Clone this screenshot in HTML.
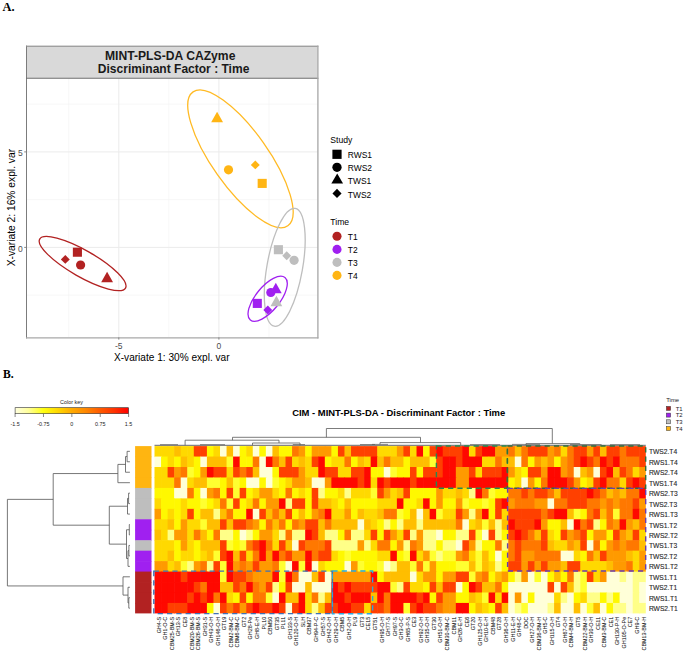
<!DOCTYPE html>
<html><head><meta charset="utf-8"><style>
html,body{margin:0;padding:0;background:#fff;}
body{width:685px;height:654px;overflow:hidden;font-family:'Liberation Sans',sans-serif;}
svg{display:block;}
</style></head><body>
<svg width="685" height="654" viewBox="0 0 685 654">
<rect width="685" height="654" fill="#fff"/>
<text x="2.6" y="10.8" style="font-family:'Liberation Serif',serif;font-weight:bold;font-size:12.4px" fill="#000">A.</text>
<text transform="translate(2.9 377.9) scale(0.88 1)" style="font-family:'Liberation Serif',serif;font-weight:bold;font-size:13.2px" fill="#000">B.</text>
<rect x="26.4" y="45.6" width="291.20000000000005" height="32.6" fill="#D9D9D9"/>
<rect x="26.4" y="78.2" width="291.20000000000005" height="259.2" fill="#fff"/>
<line x1="68.75" y1="78.2" x2="68.75" y2="337.4" stroke="#F2F2F2" stroke-width="0.6"/>
<line x1="168.85" y1="78.2" x2="168.85" y2="337.4" stroke="#F2F2F2" stroke-width="0.6"/>
<line x1="268.95" y1="78.2" x2="268.95" y2="337.4" stroke="#F2F2F2" stroke-width="0.6"/>
<line x1="26.4" y1="104.15" x2="317.6" y2="104.15" stroke="#F2F2F2" stroke-width="0.6"/>
<line x1="26.4" y1="199.65" x2="317.6" y2="199.65" stroke="#F2F2F2" stroke-width="0.6"/>
<line x1="26.4" y1="295.15" x2="317.6" y2="295.15" stroke="#F2F2F2" stroke-width="0.6"/>
<line x1="118.80" y1="78.2" x2="118.80" y2="337.4" stroke="#EBEBEB" stroke-width="1"/>
<line x1="218.90" y1="78.2" x2="218.90" y2="337.4" stroke="#EBEBEB" stroke-width="1"/>
<line x1="26.4" y1="151.90" x2="317.6" y2="151.90" stroke="#EBEBEB" stroke-width="1"/>
<line x1="26.4" y1="247.40" x2="317.6" y2="247.40" stroke="#EBEBEB" stroke-width="1"/>
<ellipse cx="82.6" cy="263.6" rx="49.4" ry="13.2" transform="rotate(29.7 82.6 263.6)" fill="none" stroke="#B22222" stroke-width="1.3"/>
<ellipse cx="240.45" cy="158.8" rx="82" ry="28" transform="rotate(54.7 240.45 158.8)" fill="none" stroke="#FFBA24" stroke-width="1.3"/>
<ellipse cx="284.75" cy="267.35" rx="59.8" ry="17.8" transform="rotate(-79.9 284.75 267.35)" fill="none" stroke="#BEBEBE" stroke-width="1.3"/>
<ellipse cx="267.65" cy="298.75" rx="27.4" ry="11.9" transform="rotate(-50.8 267.65 298.75)" fill="none" stroke="#A020F0" stroke-width="1.3"/>
<rect x="72.85" y="247.65" width="9.1" height="9.1" fill="#B22222"/>
<path d="M65.30,254.95 L69.75,259.40 L65.30,263.85 L60.85,259.40Z" fill="#B22222"/>
<circle cx="80.6" cy="265.0" r="4.6" fill="#B22222"/>
<path d="M107.10,271.76 L113.00,282.16 L101.20,282.16Z" fill="#B22222"/>
<path d="M217.10,111.76 L223.00,122.16 L211.20,122.16Z" fill="#FFB514"/>
<circle cx="228.5" cy="169.8" r="4.6" fill="#FFB514"/>
<path d="M255.30,160.45 L259.75,164.90 L255.30,169.35 L250.85,164.90Z" fill="#FFB514"/>
<rect x="257.65" y="178.85" width="9.1" height="9.1" fill="#FFB514"/>
<rect x="273.85" y="245.15" width="9.1" height="9.1" fill="#BEBEBE"/>
<path d="M286.70,251.25 L291.15,255.70 L286.70,260.15 L282.25,255.70Z" fill="#BEBEBE"/>
<circle cx="294.1" cy="260.3" r="4.6" fill="#BEBEBE"/>
<path d="M276.40,295.76 L282.30,306.16 L270.50,306.16Z" fill="#BEBEBE"/>
<path d="M275.80,282.76 L281.70,293.16 L269.90,293.16Z" fill="#A020F0"/>
<circle cx="270.8" cy="292.5" r="4.6" fill="#A020F0"/>
<rect x="252.75" y="298.85" width="9.1" height="9.1" fill="#A020F0"/>
<path d="M267.80,305.55 L272.25,310.00 L267.80,314.45 L263.35,310.00Z" fill="#A020F0"/>
<line x1="26.5" y1="45.6" x2="26.5" y2="338.4" stroke="#7C7C7C" stroke-width="1.0"/>
<line x1="26.0" y1="46.2" x2="318.4" y2="46.2" stroke="#8C8C8C" stroke-width="1.1"/>
<line x1="26.0" y1="78.3" x2="318.4" y2="78.3" stroke="#6E6E6E" stroke-width="1.1"/>
<line x1="317.9" y1="45.6" x2="317.9" y2="338.6" stroke="#A6A6A6" stroke-width="1.3"/>
<line x1="26.0" y1="337.9" x2="318.4" y2="337.9" stroke="#A8A8A8" stroke-width="1.4"/>
<line x1="24.2" y1="151.90" x2="26.4" y2="151.90" stroke="#7A7A7A" stroke-width="0.9"/>
<line x1="24.2" y1="247.40" x2="26.4" y2="247.40" stroke="#7A7A7A" stroke-width="0.9"/>
<line x1="118.80" y1="337.4" x2="118.80" y2="339.59999999999997" stroke="#7A7A7A" stroke-width="0.9"/>
<line x1="218.90" y1="337.4" x2="218.90" y2="339.59999999999997" stroke="#7A7A7A" stroke-width="0.9"/>
<text transform="translate(22.8 156.20) scale(0.86 1)" text-anchor="end" style="font-family:'Liberation Sans',sans-serif;font-size:9.9px" fill="#4D4D4D">5</text>
<text transform="translate(22.8 251.70) scale(0.86 1)" text-anchor="end" style="font-family:'Liberation Sans',sans-serif;font-size:9.9px" fill="#4D4D4D">0</text>
<text x="118.80" y="348.6" text-anchor="middle" style="font-family:'Liberation Sans',sans-serif;font-size:8.5px" fill="#4D4D4D">-5</text>
<text x="218.90" y="348.6" text-anchor="middle" style="font-family:'Liberation Sans',sans-serif;font-size:8.5px" fill="#4D4D4D">0</text>
<text x="171.8" y="360.6" text-anchor="middle" style="font-family:'Liberation Sans',sans-serif;font-size:10.1px" fill="#000">X-variate 1: 30% expl. var</text>
<text transform="translate(15.4 207.6) rotate(-90)" text-anchor="middle" style="font-family:'Liberation Sans',sans-serif;font-size:10.25px" fill="#000">X-variate 2: 16% expl. var</text>
<text x="170.2" y="60.2" text-anchor="middle" style="font-family:'Liberation Sans',sans-serif;font-weight:bold;font-size:12.15px" fill="#1A1A1A">MINT-PLS-DA CAZyme</text>
<text x="173.6" y="73.4" text-anchor="middle" style="font-family:'Liberation Sans',sans-serif;font-weight:bold;font-size:12.04px" fill="#1A1A1A">Discriminant Factor : Time</text>
<text transform="translate(330.3 142.6) scale(0.97 1)" style="font-family:'Liberation Sans',sans-serif;font-size:8.9px" fill="#000">Study</text>
<rect x="332.40" y="149.70" width="9.2" height="9.2" fill="#000"/>
<circle cx="337.0" cy="167.3" r="4.65" fill="#000"/>
<path d="M337.20,173.44 L343.05,183.54 L331.35,183.54Z" fill="#000"/>
<path d="M337.00,188.85 L341.55,193.40 L337.00,197.95 L332.45,193.40Z" fill="#000"/>
<text transform="translate(347.8 158.00) scale(0.95 1)" style="font-family:'Liberation Sans',sans-serif;font-size:8.9px" fill="#000">RWS1</text>
<text transform="translate(347.8 171.00) scale(0.95 1)" style="font-family:'Liberation Sans',sans-serif;font-size:8.9px" fill="#000">RWS2</text>
<text transform="translate(347.8 184.20) scale(0.95 1)" style="font-family:'Liberation Sans',sans-serif;font-size:8.9px" fill="#000">TWS1</text>
<text transform="translate(347.8 197.70) scale(0.95 1)" style="font-family:'Liberation Sans',sans-serif;font-size:8.9px" fill="#000">TWS2</text>
<text transform="translate(330.3 224.8) scale(0.97 1)" style="font-family:'Liberation Sans',sans-serif;font-size:8.9px" fill="#000">Time</text>
<circle cx="337.0" cy="236.3" r="4.55" fill="#B22222"/>
<text transform="translate(347.8 240.00) scale(0.95 1)" style="font-family:'Liberation Sans',sans-serif;font-size:8.9px" fill="#000">T1</text>
<circle cx="337.0" cy="249.4" r="4.55" fill="#A020F0"/>
<text transform="translate(347.8 253.10) scale(0.95 1)" style="font-family:'Liberation Sans',sans-serif;font-size:8.9px" fill="#000">T2</text>
<circle cx="337.0" cy="262.4" r="4.55" fill="#BEBEBE"/>
<text transform="translate(347.8 266.10) scale(0.95 1)" style="font-family:'Liberation Sans',sans-serif;font-size:8.9px" fill="#000">T3</text>
<circle cx="337.0" cy="275.4" r="4.55" fill="#FFB514"/>
<text transform="translate(347.8 279.10) scale(0.95 1)" style="font-family:'Liberation Sans',sans-serif;font-size:8.9px" fill="#000">T4</text>
<defs><linearGradient id="ck" x1="0" x2="1" y1="0" y2="0"><stop offset="0" stop-color="#FFFFE0"/><stop offset="0.12" stop-color="#FFFF99"/><stop offset="0.25" stop-color="#FFFF10"/><stop offset="0.38" stop-color="#FFD700"/><stop offset="0.5" stop-color="#FFAA00"/><stop offset="0.62" stop-color="#FF8800"/><stop offset="0.75" stop-color="#FF5A00"/><stop offset="0.88" stop-color="#FF3000"/><stop offset="1" stop-color="#FF0000"/></linearGradient></defs>
<rect x="15.1" y="407.7" width="113.5" height="6" fill="url(#ck)" stroke="#333" stroke-width="0.6"/>
<line x1="15.10" y1="413.7" x2="15.10" y2="417" stroke="#555" stroke-width="0.7"/>
<text x="15.10" y="425.6" text-anchor="middle" style="font-family:'Liberation Sans',sans-serif;font-size:5.4px" fill="#222">-1.5</text>
<line x1="43.48" y1="413.7" x2="43.48" y2="417" stroke="#555" stroke-width="0.7"/>
<text x="43.48" y="425.6" text-anchor="middle" style="font-family:'Liberation Sans',sans-serif;font-size:5.4px" fill="#222">-0.75</text>
<line x1="71.85" y1="413.7" x2="71.85" y2="417" stroke="#555" stroke-width="0.7"/>
<text x="71.85" y="425.6" text-anchor="middle" style="font-family:'Liberation Sans',sans-serif;font-size:5.4px" fill="#222">0</text>
<line x1="100.22" y1="413.7" x2="100.22" y2="417" stroke="#555" stroke-width="0.7"/>
<text x="100.22" y="425.6" text-anchor="middle" style="font-family:'Liberation Sans',sans-serif;font-size:5.4px" fill="#222">0.75</text>
<line x1="128.60" y1="413.7" x2="128.60" y2="417" stroke="#555" stroke-width="0.7"/>
<text x="128.60" y="425.6" text-anchor="middle" style="font-family:'Liberation Sans',sans-serif;font-size:5.4px" fill="#222">1.5</text>
<text x="71.5" y="404.2" text-anchor="middle" style="font-family:'Liberation Sans',sans-serif;font-size:5.4px" fill="#222">Color key</text>
<text x="398.7" y="415.8" text-anchor="middle" style="font-family:'Liberation Sans',sans-serif;font-weight:bold;font-size:9.43px" fill="#000">CIM - MINT-PLS-DA - Discriminant Factor : Time</text>
<text x="666.2" y="401.8" style="font-family:'Liberation Sans',sans-serif;font-size:5.9px" fill="#222">Time</text>
<rect x="666.4" y="406.40" width="4.2" height="4" fill="#B22222" stroke="#333" stroke-width="0.5"/>
<text x="675.7" y="410.70" style="font-family:'Liberation Sans',sans-serif;font-size:5.9px" fill="#222">T1</text>
<rect x="666.4" y="413.10" width="4.2" height="4" fill="#A020F0" stroke="#333" stroke-width="0.5"/>
<text x="675.7" y="417.40" style="font-family:'Liberation Sans',sans-serif;font-size:5.9px" fill="#222">T2</text>
<rect x="666.4" y="419.80" width="4.2" height="4" fill="#BEBEBE" stroke="#333" stroke-width="0.5"/>
<text x="675.7" y="424.10" style="font-family:'Liberation Sans',sans-serif;font-size:5.9px" fill="#222">T3</text>
<rect x="666.4" y="426.50" width="4.2" height="4" fill="#FFB511" stroke="#333" stroke-width="0.5"/>
<text x="675.7" y="430.80" style="font-family:'Liberation Sans',sans-serif;font-size:5.9px" fill="#222">T4</text>
<rect x="154.50" y="446.10" width="7.15" height="11.06" fill="#FFD900"/>
<rect x="161.05" y="446.10" width="7.15" height="11.06" fill="#FFD900"/>
<rect x="167.60" y="446.10" width="7.15" height="11.06" fill="#FFD900"/>
<rect x="174.15" y="446.10" width="7.15" height="11.06" fill="#FFBE00"/>
<rect x="180.70" y="446.10" width="7.15" height="11.06" fill="#FFD900"/>
<rect x="187.25" y="446.10" width="7.15" height="11.06" fill="#FFD900"/>
<rect x="193.80" y="446.10" width="7.15" height="11.06" fill="#FF4000"/>
<rect x="200.35" y="446.10" width="7.15" height="11.06" fill="#FF4000"/>
<rect x="206.91" y="446.10" width="7.15" height="11.06" fill="#FFF800"/>
<rect x="213.46" y="446.10" width="7.15" height="11.06" fill="#FFD900"/>
<rect x="220.01" y="446.10" width="7.15" height="11.06" fill="#FFFFD8"/>
<rect x="226.56" y="446.10" width="7.15" height="11.06" fill="#FFBE00"/>
<rect x="233.11" y="446.10" width="7.15" height="11.06" fill="#FFFFD8"/>
<rect x="239.66" y="446.10" width="7.15" height="11.06" fill="#FFF800"/>
<rect x="246.21" y="446.10" width="7.15" height="11.06" fill="#FFD900"/>
<rect x="252.76" y="446.10" width="7.15" height="11.06" fill="#FFFFD8"/>
<rect x="259.31" y="446.10" width="7.15" height="11.06" fill="#FFF800"/>
<rect x="265.86" y="446.10" width="7.15" height="11.06" fill="#FFFFD8"/>
<rect x="272.41" y="446.10" width="7.15" height="11.06" fill="#FFBE00"/>
<rect x="278.96" y="446.10" width="7.15" height="11.06" fill="#FFF800"/>
<rect x="285.51" y="446.10" width="7.15" height="11.06" fill="#FFF800"/>
<rect x="292.06" y="446.10" width="7.15" height="11.06" fill="#FF7800"/>
<rect x="298.61" y="446.10" width="7.15" height="11.06" fill="#FF9A00"/>
<rect x="305.17" y="446.10" width="7.15" height="11.06" fill="#FFF800"/>
<rect x="311.72" y="446.10" width="7.15" height="11.06" fill="#FF9A00"/>
<rect x="318.27" y="446.10" width="7.15" height="11.06" fill="#FF9A00"/>
<rect x="324.82" y="446.10" width="7.15" height="11.06" fill="#FF9A00"/>
<rect x="331.37" y="446.10" width="7.15" height="11.06" fill="#FFF800"/>
<rect x="337.92" y="446.10" width="7.15" height="11.06" fill="#FF4000"/>
<rect x="344.47" y="446.10" width="7.15" height="11.06" fill="#FFBE00"/>
<rect x="351.02" y="446.10" width="7.15" height="11.06" fill="#FF4000"/>
<rect x="357.57" y="446.10" width="7.15" height="11.06" fill="#FF4000"/>
<rect x="364.12" y="446.10" width="7.15" height="11.06" fill="#FF4000"/>
<rect x="370.67" y="446.10" width="7.15" height="11.06" fill="#FF4000"/>
<rect x="377.22" y="446.10" width="7.15" height="11.06" fill="#FFD900"/>
<rect x="383.77" y="446.10" width="7.15" height="11.06" fill="#FFD900"/>
<rect x="390.32" y="446.10" width="7.15" height="11.06" fill="#FFD900"/>
<rect x="396.87" y="446.10" width="7.15" height="11.06" fill="#FF9A00"/>
<rect x="403.43" y="446.10" width="7.15" height="11.06" fill="#FF4000"/>
<rect x="409.98" y="446.10" width="7.15" height="11.06" fill="#FFD900"/>
<rect x="416.53" y="446.10" width="7.15" height="11.06" fill="#FF0800"/>
<rect x="423.08" y="446.10" width="7.15" height="11.06" fill="#FFF800"/>
<rect x="429.63" y="446.10" width="7.15" height="11.06" fill="#FF4000"/>
<rect x="436.18" y="446.10" width="7.15" height="11.06" fill="#FF0800"/>
<rect x="442.73" y="446.10" width="7.15" height="11.06" fill="#FF4000"/>
<rect x="449.28" y="446.10" width="7.15" height="11.06" fill="#FF4000"/>
<rect x="455.83" y="446.10" width="7.15" height="11.06" fill="#FF4000"/>
<rect x="462.38" y="446.10" width="7.15" height="11.06" fill="#FF0800"/>
<rect x="468.93" y="446.10" width="7.15" height="11.06" fill="#FFD900"/>
<rect x="475.48" y="446.10" width="7.15" height="11.06" fill="#FF4000"/>
<rect x="482.03" y="446.10" width="7.15" height="11.06" fill="#FF0800"/>
<rect x="488.58" y="446.10" width="7.15" height="11.06" fill="#FF0800"/>
<rect x="495.13" y="446.10" width="7.15" height="11.06" fill="#FF9A00"/>
<rect x="501.69" y="446.10" width="7.15" height="11.06" fill="#FF9A00"/>
<rect x="508.24" y="446.10" width="7.15" height="11.06" fill="#FF7800"/>
<rect x="514.79" y="446.10" width="7.15" height="11.06" fill="#FFBE00"/>
<rect x="521.34" y="446.10" width="7.15" height="11.06" fill="#FF7800"/>
<rect x="527.89" y="446.10" width="7.15" height="11.06" fill="#FF4000"/>
<rect x="534.44" y="446.10" width="7.15" height="11.06" fill="#FF4000"/>
<rect x="540.99" y="446.10" width="7.15" height="11.06" fill="#FF4000"/>
<rect x="547.54" y="446.10" width="7.15" height="11.06" fill="#FF9A00"/>
<rect x="554.09" y="446.10" width="7.15" height="11.06" fill="#FF7800"/>
<rect x="560.64" y="446.10" width="7.15" height="11.06" fill="#FFD900"/>
<rect x="567.19" y="446.10" width="7.15" height="11.06" fill="#FF7800"/>
<rect x="573.74" y="446.10" width="7.15" height="11.06" fill="#FF4000"/>
<rect x="580.29" y="446.10" width="7.15" height="11.06" fill="#FF4000"/>
<rect x="586.84" y="446.10" width="7.15" height="11.06" fill="#FF9A00"/>
<rect x="593.39" y="446.10" width="7.15" height="11.06" fill="#FF4000"/>
<rect x="599.95" y="446.10" width="7.15" height="11.06" fill="#FFBE00"/>
<rect x="606.50" y="446.10" width="7.15" height="11.06" fill="#FF4000"/>
<rect x="613.05" y="446.10" width="7.15" height="11.06" fill="#FF4000"/>
<rect x="619.60" y="446.10" width="7.15" height="11.06" fill="#FF7800"/>
<rect x="626.15" y="446.10" width="7.15" height="11.06" fill="#FF4000"/>
<rect x="632.70" y="446.10" width="7.15" height="11.06" fill="#FF4000"/>
<rect x="639.25" y="446.10" width="6.55" height="11.06" fill="#FF4000"/>
<rect x="154.50" y="456.56" width="7.15" height="11.06" fill="#FFFFD8"/>
<rect x="161.05" y="456.56" width="7.15" height="11.06" fill="#FFF800"/>
<rect x="167.60" y="456.56" width="7.15" height="11.06" fill="#FFD900"/>
<rect x="174.15" y="456.56" width="7.15" height="11.06" fill="#FFF800"/>
<rect x="180.70" y="456.56" width="7.15" height="11.06" fill="#FFBE00"/>
<rect x="187.25" y="456.56" width="7.15" height="11.06" fill="#FFD900"/>
<rect x="193.80" y="456.56" width="7.15" height="11.06" fill="#FFF800"/>
<rect x="200.35" y="456.56" width="7.15" height="11.06" fill="#FFFFD8"/>
<rect x="206.91" y="456.56" width="7.15" height="11.06" fill="#FFBE00"/>
<rect x="213.46" y="456.56" width="7.15" height="11.06" fill="#FFBE00"/>
<rect x="220.01" y="456.56" width="7.15" height="11.06" fill="#FFBE00"/>
<rect x="226.56" y="456.56" width="7.15" height="11.06" fill="#FFFF30"/>
<rect x="233.11" y="456.56" width="7.15" height="11.06" fill="#FF0800"/>
<rect x="239.66" y="456.56" width="7.15" height="11.06" fill="#FFF800"/>
<rect x="246.21" y="456.56" width="7.15" height="11.06" fill="#FFF800"/>
<rect x="252.76" y="456.56" width="7.15" height="11.06" fill="#FF7800"/>
<rect x="259.31" y="456.56" width="7.15" height="11.06" fill="#FFFFD8"/>
<rect x="265.86" y="456.56" width="7.15" height="11.06" fill="#FF0800"/>
<rect x="272.41" y="456.56" width="7.15" height="11.06" fill="#FF7800"/>
<rect x="278.96" y="456.56" width="7.15" height="11.06" fill="#FFBE00"/>
<rect x="285.51" y="456.56" width="7.15" height="11.06" fill="#FF4000"/>
<rect x="292.06" y="456.56" width="7.15" height="11.06" fill="#FFD900"/>
<rect x="298.61" y="456.56" width="7.15" height="11.06" fill="#FFBE00"/>
<rect x="305.17" y="456.56" width="7.15" height="11.06" fill="#FFD900"/>
<rect x="311.72" y="456.56" width="7.15" height="11.06" fill="#FF4000"/>
<rect x="318.27" y="456.56" width="7.15" height="11.06" fill="#FF0800"/>
<rect x="324.82" y="456.56" width="7.15" height="11.06" fill="#FFF800"/>
<rect x="331.37" y="456.56" width="7.15" height="11.06" fill="#FFD900"/>
<rect x="337.92" y="456.56" width="7.15" height="11.06" fill="#FFD900"/>
<rect x="344.47" y="456.56" width="7.15" height="11.06" fill="#FF7800"/>
<rect x="351.02" y="456.56" width="7.15" height="11.06" fill="#FFF800"/>
<rect x="357.57" y="456.56" width="7.15" height="11.06" fill="#FFBE00"/>
<rect x="364.12" y="456.56" width="7.15" height="11.06" fill="#FFD900"/>
<rect x="370.67" y="456.56" width="7.15" height="11.06" fill="#FF0800"/>
<rect x="377.22" y="456.56" width="7.15" height="11.06" fill="#FFBE00"/>
<rect x="383.77" y="456.56" width="7.15" height="11.06" fill="#FF7800"/>
<rect x="390.32" y="456.56" width="7.15" height="11.06" fill="#FFBE00"/>
<rect x="396.87" y="456.56" width="7.15" height="11.06" fill="#FFBE00"/>
<rect x="403.43" y="456.56" width="7.15" height="11.06" fill="#FFF800"/>
<rect x="409.98" y="456.56" width="7.15" height="11.06" fill="#FFBE00"/>
<rect x="416.53" y="456.56" width="7.15" height="11.06" fill="#FFBE00"/>
<rect x="423.08" y="456.56" width="7.15" height="11.06" fill="#FFBE00"/>
<rect x="429.63" y="456.56" width="7.15" height="11.06" fill="#FFFF30"/>
<rect x="436.18" y="456.56" width="7.15" height="11.06" fill="#FF4000"/>
<rect x="442.73" y="456.56" width="7.15" height="11.06" fill="#FF0800"/>
<rect x="449.28" y="456.56" width="7.15" height="11.06" fill="#FF0800"/>
<rect x="455.83" y="456.56" width="7.15" height="11.06" fill="#FF4000"/>
<rect x="462.38" y="456.56" width="7.15" height="11.06" fill="#FF0800"/>
<rect x="468.93" y="456.56" width="7.15" height="11.06" fill="#FF0800"/>
<rect x="475.48" y="456.56" width="7.15" height="11.06" fill="#FF0800"/>
<rect x="482.03" y="456.56" width="7.15" height="11.06" fill="#FFD900"/>
<rect x="488.58" y="456.56" width="7.15" height="11.06" fill="#FFD900"/>
<rect x="495.13" y="456.56" width="7.15" height="11.06" fill="#FF7800"/>
<rect x="501.69" y="456.56" width="7.15" height="11.06" fill="#FFBE00"/>
<rect x="508.24" y="456.56" width="7.15" height="11.06" fill="#FFBE00"/>
<rect x="514.79" y="456.56" width="7.15" height="11.06" fill="#FFFFD8"/>
<rect x="521.34" y="456.56" width="7.15" height="11.06" fill="#FF7800"/>
<rect x="527.89" y="456.56" width="7.15" height="11.06" fill="#FFF800"/>
<rect x="534.44" y="456.56" width="7.15" height="11.06" fill="#FF9A00"/>
<rect x="540.99" y="456.56" width="7.15" height="11.06" fill="#FFBE00"/>
<rect x="547.54" y="456.56" width="7.15" height="11.06" fill="#FF9A00"/>
<rect x="554.09" y="456.56" width="7.15" height="11.06" fill="#FFF800"/>
<rect x="560.64" y="456.56" width="7.15" height="11.06" fill="#FF9A00"/>
<rect x="567.19" y="456.56" width="7.15" height="11.06" fill="#FF7800"/>
<rect x="573.74" y="456.56" width="7.15" height="11.06" fill="#FF4000"/>
<rect x="580.29" y="456.56" width="7.15" height="11.06" fill="#FF0800"/>
<rect x="586.84" y="456.56" width="7.15" height="11.06" fill="#FF4000"/>
<rect x="593.39" y="456.56" width="7.15" height="11.06" fill="#FF7800"/>
<rect x="599.95" y="456.56" width="7.15" height="11.06" fill="#FF0800"/>
<rect x="606.50" y="456.56" width="7.15" height="11.06" fill="#FF4000"/>
<rect x="613.05" y="456.56" width="7.15" height="11.06" fill="#FF0800"/>
<rect x="619.60" y="456.56" width="7.15" height="11.06" fill="#FF7800"/>
<rect x="626.15" y="456.56" width="7.15" height="11.06" fill="#FF7800"/>
<rect x="632.70" y="456.56" width="7.15" height="11.06" fill="#FF7800"/>
<rect x="639.25" y="456.56" width="6.55" height="11.06" fill="#FF4000"/>
<rect x="154.50" y="467.01" width="7.15" height="11.06" fill="#FFD900"/>
<rect x="161.05" y="467.01" width="7.15" height="11.06" fill="#FFD900"/>
<rect x="167.60" y="467.01" width="7.15" height="11.06" fill="#FF4000"/>
<rect x="174.15" y="467.01" width="7.15" height="11.06" fill="#FF9A00"/>
<rect x="180.70" y="467.01" width="7.15" height="11.06" fill="#FF7800"/>
<rect x="187.25" y="467.01" width="7.15" height="11.06" fill="#FFFF30"/>
<rect x="193.80" y="467.01" width="7.15" height="11.06" fill="#FFF800"/>
<rect x="200.35" y="467.01" width="7.15" height="11.06" fill="#FF9A00"/>
<rect x="206.91" y="467.01" width="7.15" height="11.06" fill="#FF0800"/>
<rect x="213.46" y="467.01" width="7.15" height="11.06" fill="#FF4000"/>
<rect x="220.01" y="467.01" width="7.15" height="11.06" fill="#FF4000"/>
<rect x="226.56" y="467.01" width="7.15" height="11.06" fill="#FFD900"/>
<rect x="233.11" y="467.01" width="7.15" height="11.06" fill="#FF4000"/>
<rect x="239.66" y="467.01" width="7.15" height="11.06" fill="#FF7800"/>
<rect x="246.21" y="467.01" width="7.15" height="11.06" fill="#FF4000"/>
<rect x="252.76" y="467.01" width="7.15" height="11.06" fill="#FFBE00"/>
<rect x="259.31" y="467.01" width="7.15" height="11.06" fill="#FFFFD8"/>
<rect x="265.86" y="467.01" width="7.15" height="11.06" fill="#FFFFD8"/>
<rect x="272.41" y="467.01" width="7.15" height="11.06" fill="#FFF800"/>
<rect x="278.96" y="467.01" width="7.15" height="11.06" fill="#FF4000"/>
<rect x="285.51" y="467.01" width="7.15" height="11.06" fill="#FF4000"/>
<rect x="292.06" y="467.01" width="7.15" height="11.06" fill="#FF4000"/>
<rect x="298.61" y="467.01" width="7.15" height="11.06" fill="#FF9A00"/>
<rect x="305.17" y="467.01" width="7.15" height="11.06" fill="#FFD900"/>
<rect x="311.72" y="467.01" width="7.15" height="11.06" fill="#FFD900"/>
<rect x="318.27" y="467.01" width="7.15" height="11.06" fill="#FF0800"/>
<rect x="324.82" y="467.01" width="7.15" height="11.06" fill="#FF4000"/>
<rect x="331.37" y="467.01" width="7.15" height="11.06" fill="#FF4000"/>
<rect x="337.92" y="467.01" width="7.15" height="11.06" fill="#FFD900"/>
<rect x="344.47" y="467.01" width="7.15" height="11.06" fill="#FFD900"/>
<rect x="351.02" y="467.01" width="7.15" height="11.06" fill="#FF4000"/>
<rect x="357.57" y="467.01" width="7.15" height="11.06" fill="#FF4000"/>
<rect x="364.12" y="467.01" width="7.15" height="11.06" fill="#FF0800"/>
<rect x="370.67" y="467.01" width="7.15" height="11.06" fill="#FFF800"/>
<rect x="377.22" y="467.01" width="7.15" height="11.06" fill="#FFF800"/>
<rect x="383.77" y="467.01" width="7.15" height="11.06" fill="#FFFFD8"/>
<rect x="390.32" y="467.01" width="7.15" height="11.06" fill="#FFFF30"/>
<rect x="396.87" y="467.01" width="7.15" height="11.06" fill="#FFF800"/>
<rect x="403.43" y="467.01" width="7.15" height="11.06" fill="#FFF800"/>
<rect x="409.98" y="467.01" width="7.15" height="11.06" fill="#FF4000"/>
<rect x="416.53" y="467.01" width="7.15" height="11.06" fill="#FFF800"/>
<rect x="423.08" y="467.01" width="7.15" height="11.06" fill="#FF4000"/>
<rect x="429.63" y="467.01" width="7.15" height="11.06" fill="#FF4000"/>
<rect x="436.18" y="467.01" width="7.15" height="11.06" fill="#FF4000"/>
<rect x="442.73" y="467.01" width="7.15" height="11.06" fill="#FF0800"/>
<rect x="449.28" y="467.01" width="7.15" height="11.06" fill="#FF0800"/>
<rect x="455.83" y="467.01" width="7.15" height="11.06" fill="#FF9A00"/>
<rect x="462.38" y="467.01" width="7.15" height="11.06" fill="#FF9A00"/>
<rect x="468.93" y="467.01" width="7.15" height="11.06" fill="#FF4000"/>
<rect x="475.48" y="467.01" width="7.15" height="11.06" fill="#FFD900"/>
<rect x="482.03" y="467.01" width="7.15" height="11.06" fill="#FF4000"/>
<rect x="488.58" y="467.01" width="7.15" height="11.06" fill="#FF4000"/>
<rect x="495.13" y="467.01" width="7.15" height="11.06" fill="#FF4000"/>
<rect x="501.69" y="467.01" width="7.15" height="11.06" fill="#FF0800"/>
<rect x="508.24" y="467.01" width="7.15" height="11.06" fill="#FF9A00"/>
<rect x="514.79" y="467.01" width="7.15" height="11.06" fill="#FFD900"/>
<rect x="521.34" y="467.01" width="7.15" height="11.06" fill="#FFF800"/>
<rect x="527.89" y="467.01" width="7.15" height="11.06" fill="#FF4000"/>
<rect x="534.44" y="467.01" width="7.15" height="11.06" fill="#FF4000"/>
<rect x="540.99" y="467.01" width="7.15" height="11.06" fill="#FF9A00"/>
<rect x="547.54" y="467.01" width="7.15" height="11.06" fill="#FF0800"/>
<rect x="554.09" y="467.01" width="7.15" height="11.06" fill="#FF0800"/>
<rect x="560.64" y="467.01" width="7.15" height="11.06" fill="#FF9A00"/>
<rect x="567.19" y="467.01" width="7.15" height="11.06" fill="#FF7800"/>
<rect x="573.74" y="467.01" width="7.15" height="11.06" fill="#FFFFD8"/>
<rect x="580.29" y="467.01" width="7.15" height="11.06" fill="#FFBE00"/>
<rect x="586.84" y="467.01" width="7.15" height="11.06" fill="#FF9A00"/>
<rect x="593.39" y="467.01" width="7.15" height="11.06" fill="#FFFFD8"/>
<rect x="599.95" y="467.01" width="7.15" height="11.06" fill="#FF4000"/>
<rect x="606.50" y="467.01" width="7.15" height="11.06" fill="#FF0800"/>
<rect x="613.05" y="467.01" width="7.15" height="11.06" fill="#FFBE00"/>
<rect x="619.60" y="467.01" width="7.15" height="11.06" fill="#FF4000"/>
<rect x="626.15" y="467.01" width="7.15" height="11.06" fill="#FF7800"/>
<rect x="632.70" y="467.01" width="7.15" height="11.06" fill="#FFD900"/>
<rect x="639.25" y="467.01" width="6.55" height="11.06" fill="#FF9A00"/>
<rect x="154.50" y="477.47" width="7.15" height="11.06" fill="#FFD900"/>
<rect x="161.05" y="477.47" width="7.15" height="11.06" fill="#FFD900"/>
<rect x="167.60" y="477.47" width="7.15" height="11.06" fill="#FFD900"/>
<rect x="174.15" y="477.47" width="7.15" height="11.06" fill="#FF7800"/>
<rect x="180.70" y="477.47" width="7.15" height="11.06" fill="#FFFFD8"/>
<rect x="187.25" y="477.47" width="7.15" height="11.06" fill="#FFD900"/>
<rect x="193.80" y="477.47" width="7.15" height="11.06" fill="#FFBE00"/>
<rect x="200.35" y="477.47" width="7.15" height="11.06" fill="#FFBE00"/>
<rect x="206.91" y="477.47" width="7.15" height="11.06" fill="#FFFF30"/>
<rect x="213.46" y="477.47" width="7.15" height="11.06" fill="#FFFF30"/>
<rect x="220.01" y="477.47" width="7.15" height="11.06" fill="#FFF800"/>
<rect x="226.56" y="477.47" width="7.15" height="11.06" fill="#FFBE00"/>
<rect x="233.11" y="477.47" width="7.15" height="11.06" fill="#FFFF30"/>
<rect x="239.66" y="477.47" width="7.15" height="11.06" fill="#FFF800"/>
<rect x="246.21" y="477.47" width="7.15" height="11.06" fill="#FFFFD8"/>
<rect x="252.76" y="477.47" width="7.15" height="11.06" fill="#FFFFD8"/>
<rect x="259.31" y="477.47" width="7.15" height="11.06" fill="#FFF800"/>
<rect x="265.86" y="477.47" width="7.15" height="11.06" fill="#FFFFD8"/>
<rect x="272.41" y="477.47" width="7.15" height="11.06" fill="#FFFF30"/>
<rect x="278.96" y="477.47" width="7.15" height="11.06" fill="#FFF800"/>
<rect x="285.51" y="477.47" width="7.15" height="11.06" fill="#FFD900"/>
<rect x="292.06" y="477.47" width="7.15" height="11.06" fill="#FF9A00"/>
<rect x="298.61" y="477.47" width="7.15" height="11.06" fill="#FF9A00"/>
<rect x="305.17" y="477.47" width="7.15" height="11.06" fill="#FFBE00"/>
<rect x="311.72" y="477.47" width="7.15" height="11.06" fill="#FFFFD8"/>
<rect x="318.27" y="477.47" width="7.15" height="11.06" fill="#FFFFD8"/>
<rect x="324.82" y="477.47" width="7.15" height="11.06" fill="#FF9A00"/>
<rect x="331.37" y="477.47" width="7.15" height="11.06" fill="#FF0800"/>
<rect x="337.92" y="477.47" width="7.15" height="11.06" fill="#FF0800"/>
<rect x="344.47" y="477.47" width="7.15" height="11.06" fill="#FF0800"/>
<rect x="351.02" y="477.47" width="7.15" height="11.06" fill="#FF0800"/>
<rect x="357.57" y="477.47" width="7.15" height="11.06" fill="#FF4000"/>
<rect x="364.12" y="477.47" width="7.15" height="11.06" fill="#FF0800"/>
<rect x="370.67" y="477.47" width="7.15" height="11.06" fill="#FFD900"/>
<rect x="377.22" y="477.47" width="7.15" height="11.06" fill="#FF0800"/>
<rect x="383.77" y="477.47" width="7.15" height="11.06" fill="#FF4000"/>
<rect x="390.32" y="477.47" width="7.15" height="11.06" fill="#FF0800"/>
<rect x="396.87" y="477.47" width="7.15" height="11.06" fill="#FF0800"/>
<rect x="403.43" y="477.47" width="7.15" height="11.06" fill="#FF0800"/>
<rect x="409.98" y="477.47" width="7.15" height="11.06" fill="#FF4000"/>
<rect x="416.53" y="477.47" width="7.15" height="11.06" fill="#FF0800"/>
<rect x="423.08" y="477.47" width="7.15" height="11.06" fill="#FF0800"/>
<rect x="429.63" y="477.47" width="7.15" height="11.06" fill="#FF0800"/>
<rect x="436.18" y="477.47" width="7.15" height="11.06" fill="#FF0800"/>
<rect x="442.73" y="477.47" width="7.15" height="11.06" fill="#FF0800"/>
<rect x="449.28" y="477.47" width="7.15" height="11.06" fill="#FF0800"/>
<rect x="455.83" y="477.47" width="7.15" height="11.06" fill="#FF9A00"/>
<rect x="462.38" y="477.47" width="7.15" height="11.06" fill="#FF9A00"/>
<rect x="468.93" y="477.47" width="7.15" height="11.06" fill="#FF0800"/>
<rect x="475.48" y="477.47" width="7.15" height="11.06" fill="#FF0800"/>
<rect x="482.03" y="477.47" width="7.15" height="11.06" fill="#FF0800"/>
<rect x="488.58" y="477.47" width="7.15" height="11.06" fill="#FF0800"/>
<rect x="495.13" y="477.47" width="7.15" height="11.06" fill="#FF0800"/>
<rect x="501.69" y="477.47" width="7.15" height="11.06" fill="#FF0800"/>
<rect x="508.24" y="477.47" width="7.15" height="11.06" fill="#FFF800"/>
<rect x="514.79" y="477.47" width="7.15" height="11.06" fill="#FFD900"/>
<rect x="521.34" y="477.47" width="7.15" height="11.06" fill="#FFFFD8"/>
<rect x="527.89" y="477.47" width="7.15" height="11.06" fill="#FF9A00"/>
<rect x="534.44" y="477.47" width="7.15" height="11.06" fill="#FFF800"/>
<rect x="540.99" y="477.47" width="7.15" height="11.06" fill="#FF7800"/>
<rect x="547.54" y="477.47" width="7.15" height="11.06" fill="#FF0800"/>
<rect x="554.09" y="477.47" width="7.15" height="11.06" fill="#FF0800"/>
<rect x="560.64" y="477.47" width="7.15" height="11.06" fill="#FF0800"/>
<rect x="567.19" y="477.47" width="7.15" height="11.06" fill="#FF4000"/>
<rect x="573.74" y="477.47" width="7.15" height="11.06" fill="#FF9A00"/>
<rect x="580.29" y="477.47" width="7.15" height="11.06" fill="#FFF800"/>
<rect x="586.84" y="477.47" width="7.15" height="11.06" fill="#FFD900"/>
<rect x="593.39" y="477.47" width="7.15" height="11.06" fill="#FF4000"/>
<rect x="599.95" y="477.47" width="7.15" height="11.06" fill="#FF0800"/>
<rect x="606.50" y="477.47" width="7.15" height="11.06" fill="#FF7800"/>
<rect x="613.05" y="477.47" width="7.15" height="11.06" fill="#FF7800"/>
<rect x="619.60" y="477.47" width="7.15" height="11.06" fill="#FFD900"/>
<rect x="626.15" y="477.47" width="7.15" height="11.06" fill="#FF4000"/>
<rect x="632.70" y="477.47" width="7.15" height="11.06" fill="#FF0800"/>
<rect x="639.25" y="477.47" width="6.55" height="11.06" fill="#FF4000"/>
<rect x="154.50" y="487.93" width="7.15" height="11.06" fill="#FFF800"/>
<rect x="161.05" y="487.93" width="7.15" height="11.06" fill="#FFF800"/>
<rect x="167.60" y="487.93" width="7.15" height="11.06" fill="#FFF800"/>
<rect x="174.15" y="487.93" width="7.15" height="11.06" fill="#FFFFD8"/>
<rect x="180.70" y="487.93" width="7.15" height="11.06" fill="#FFFFD8"/>
<rect x="187.25" y="487.93" width="7.15" height="11.06" fill="#FF7800"/>
<rect x="193.80" y="487.93" width="7.15" height="11.06" fill="#FFF800"/>
<rect x="200.35" y="487.93" width="7.15" height="11.06" fill="#FFFFD8"/>
<rect x="206.91" y="487.93" width="7.15" height="11.06" fill="#FF9A00"/>
<rect x="213.46" y="487.93" width="7.15" height="11.06" fill="#FF7800"/>
<rect x="220.01" y="487.93" width="7.15" height="11.06" fill="#FFF800"/>
<rect x="226.56" y="487.93" width="7.15" height="11.06" fill="#FF4000"/>
<rect x="233.11" y="487.93" width="7.15" height="11.06" fill="#FFFF30"/>
<rect x="239.66" y="487.93" width="7.15" height="11.06" fill="#FF4000"/>
<rect x="246.21" y="487.93" width="7.15" height="11.06" fill="#FFF800"/>
<rect x="252.76" y="487.93" width="7.15" height="11.06" fill="#FFD900"/>
<rect x="259.31" y="487.93" width="7.15" height="11.06" fill="#FF9A00"/>
<rect x="265.86" y="487.93" width="7.15" height="11.06" fill="#FF9A00"/>
<rect x="272.41" y="487.93" width="7.15" height="11.06" fill="#FFD900"/>
<rect x="278.96" y="487.93" width="7.15" height="11.06" fill="#FFF800"/>
<rect x="285.51" y="487.93" width="7.15" height="11.06" fill="#FF7800"/>
<rect x="292.06" y="487.93" width="7.15" height="11.06" fill="#FFF800"/>
<rect x="298.61" y="487.93" width="7.15" height="11.06" fill="#FFD900"/>
<rect x="305.17" y="487.93" width="7.15" height="11.06" fill="#FFF800"/>
<rect x="311.72" y="487.93" width="7.15" height="11.06" fill="#FF4000"/>
<rect x="318.27" y="487.93" width="7.15" height="11.06" fill="#FFFF88"/>
<rect x="324.82" y="487.93" width="7.15" height="11.06" fill="#FFF800"/>
<rect x="331.37" y="487.93" width="7.15" height="11.06" fill="#FFF800"/>
<rect x="337.92" y="487.93" width="7.15" height="11.06" fill="#FFD900"/>
<rect x="344.47" y="487.93" width="7.15" height="11.06" fill="#FFFF88"/>
<rect x="351.02" y="487.93" width="7.15" height="11.06" fill="#FFD900"/>
<rect x="357.57" y="487.93" width="7.15" height="11.06" fill="#FFD900"/>
<rect x="364.12" y="487.93" width="7.15" height="11.06" fill="#FFD900"/>
<rect x="370.67" y="487.93" width="7.15" height="11.06" fill="#FFFF30"/>
<rect x="377.22" y="487.93" width="7.15" height="11.06" fill="#FF4000"/>
<rect x="383.77" y="487.93" width="7.15" height="11.06" fill="#FF9A00"/>
<rect x="390.32" y="487.93" width="7.15" height="11.06" fill="#FFD900"/>
<rect x="396.87" y="487.93" width="7.15" height="11.06" fill="#FFBE00"/>
<rect x="403.43" y="487.93" width="7.15" height="11.06" fill="#FF4000"/>
<rect x="409.98" y="487.93" width="7.15" height="11.06" fill="#FFF800"/>
<rect x="416.53" y="487.93" width="7.15" height="11.06" fill="#FFF800"/>
<rect x="423.08" y="487.93" width="7.15" height="11.06" fill="#FFF800"/>
<rect x="429.63" y="487.93" width="7.15" height="11.06" fill="#FFF800"/>
<rect x="436.18" y="487.93" width="7.15" height="11.06" fill="#FF9A00"/>
<rect x="442.73" y="487.93" width="7.15" height="11.06" fill="#FFD900"/>
<rect x="449.28" y="487.93" width="7.15" height="11.06" fill="#FFD900"/>
<rect x="455.83" y="487.93" width="7.15" height="11.06" fill="#FFBE00"/>
<rect x="462.38" y="487.93" width="7.15" height="11.06" fill="#FFD900"/>
<rect x="468.93" y="487.93" width="7.15" height="11.06" fill="#FFFF88"/>
<rect x="475.48" y="487.93" width="7.15" height="11.06" fill="#FF0800"/>
<rect x="482.03" y="487.93" width="7.15" height="11.06" fill="#FF7800"/>
<rect x="488.58" y="487.93" width="7.15" height="11.06" fill="#FFFF30"/>
<rect x="495.13" y="487.93" width="7.15" height="11.06" fill="#FFF800"/>
<rect x="501.69" y="487.93" width="7.15" height="11.06" fill="#FFF800"/>
<rect x="508.24" y="487.93" width="7.15" height="11.06" fill="#FF7800"/>
<rect x="514.79" y="487.93" width="7.15" height="11.06" fill="#FF7800"/>
<rect x="521.34" y="487.93" width="7.15" height="11.06" fill="#FF4000"/>
<rect x="527.89" y="487.93" width="7.15" height="11.06" fill="#FF7800"/>
<rect x="534.44" y="487.93" width="7.15" height="11.06" fill="#FF4000"/>
<rect x="540.99" y="487.93" width="7.15" height="11.06" fill="#FF4000"/>
<rect x="547.54" y="487.93" width="7.15" height="11.06" fill="#FF7800"/>
<rect x="554.09" y="487.93" width="7.15" height="11.06" fill="#FFBE00"/>
<rect x="560.64" y="487.93" width="7.15" height="11.06" fill="#FF4000"/>
<rect x="567.19" y="487.93" width="7.15" height="11.06" fill="#FF4000"/>
<rect x="573.74" y="487.93" width="7.15" height="11.06" fill="#FF4000"/>
<rect x="580.29" y="487.93" width="7.15" height="11.06" fill="#FF4000"/>
<rect x="586.84" y="487.93" width="7.15" height="11.06" fill="#FF0800"/>
<rect x="593.39" y="487.93" width="7.15" height="11.06" fill="#FF4000"/>
<rect x="599.95" y="487.93" width="7.15" height="11.06" fill="#FF7800"/>
<rect x="606.50" y="487.93" width="7.15" height="11.06" fill="#FFBE00"/>
<rect x="613.05" y="487.93" width="7.15" height="11.06" fill="#FF9A00"/>
<rect x="619.60" y="487.93" width="7.15" height="11.06" fill="#FFBE00"/>
<rect x="626.15" y="487.93" width="7.15" height="11.06" fill="#FF7800"/>
<rect x="632.70" y="487.93" width="7.15" height="11.06" fill="#FF7800"/>
<rect x="639.25" y="487.93" width="6.55" height="11.06" fill="#FF0800"/>
<rect x="154.50" y="498.38" width="7.15" height="11.06" fill="#FFD900"/>
<rect x="161.05" y="498.38" width="7.15" height="11.06" fill="#FFF800"/>
<rect x="167.60" y="498.38" width="7.15" height="11.06" fill="#FFF800"/>
<rect x="174.15" y="498.38" width="7.15" height="11.06" fill="#FFF800"/>
<rect x="180.70" y="498.38" width="7.15" height="11.06" fill="#FFD900"/>
<rect x="187.25" y="498.38" width="7.15" height="11.06" fill="#FFF800"/>
<rect x="193.80" y="498.38" width="7.15" height="11.06" fill="#FFF800"/>
<rect x="200.35" y="498.38" width="7.15" height="11.06" fill="#FFFF30"/>
<rect x="206.91" y="498.38" width="7.15" height="11.06" fill="#FFF800"/>
<rect x="213.46" y="498.38" width="7.15" height="11.06" fill="#FFD900"/>
<rect x="220.01" y="498.38" width="7.15" height="11.06" fill="#FF7800"/>
<rect x="226.56" y="498.38" width="7.15" height="11.06" fill="#FFFF30"/>
<rect x="233.11" y="498.38" width="7.15" height="11.06" fill="#FF4000"/>
<rect x="239.66" y="498.38" width="7.15" height="11.06" fill="#FFF800"/>
<rect x="246.21" y="498.38" width="7.15" height="11.06" fill="#FFD900"/>
<rect x="252.76" y="498.38" width="7.15" height="11.06" fill="#FF7800"/>
<rect x="259.31" y="498.38" width="7.15" height="11.06" fill="#FFF800"/>
<rect x="265.86" y="498.38" width="7.15" height="11.06" fill="#FF9A00"/>
<rect x="272.41" y="498.38" width="7.15" height="11.06" fill="#FF9A00"/>
<rect x="278.96" y="498.38" width="7.15" height="11.06" fill="#FF0800"/>
<rect x="285.51" y="498.38" width="7.15" height="11.06" fill="#FFFF88"/>
<rect x="292.06" y="498.38" width="7.15" height="11.06" fill="#FF4000"/>
<rect x="298.61" y="498.38" width="7.15" height="11.06" fill="#FF4000"/>
<rect x="305.17" y="498.38" width="7.15" height="11.06" fill="#FFF800"/>
<rect x="311.72" y="498.38" width="7.15" height="11.06" fill="#FF4000"/>
<rect x="318.27" y="498.38" width="7.15" height="11.06" fill="#FFBE00"/>
<rect x="324.82" y="498.38" width="7.15" height="11.06" fill="#FFBE00"/>
<rect x="331.37" y="498.38" width="7.15" height="11.06" fill="#FFD900"/>
<rect x="337.92" y="498.38" width="7.15" height="11.06" fill="#FFF800"/>
<rect x="344.47" y="498.38" width="7.15" height="11.06" fill="#FFBE00"/>
<rect x="351.02" y="498.38" width="7.15" height="11.06" fill="#FFF800"/>
<rect x="357.57" y="498.38" width="7.15" height="11.06" fill="#FFF800"/>
<rect x="364.12" y="498.38" width="7.15" height="11.06" fill="#FFF800"/>
<rect x="370.67" y="498.38" width="7.15" height="11.06" fill="#FFF800"/>
<rect x="377.22" y="498.38" width="7.15" height="11.06" fill="#FFD900"/>
<rect x="383.77" y="498.38" width="7.15" height="11.06" fill="#FFD900"/>
<rect x="390.32" y="498.38" width="7.15" height="11.06" fill="#FFD900"/>
<rect x="396.87" y="498.38" width="7.15" height="11.06" fill="#FF0800"/>
<rect x="403.43" y="498.38" width="7.15" height="11.06" fill="#FFF800"/>
<rect x="409.98" y="498.38" width="7.15" height="11.06" fill="#FFF800"/>
<rect x="416.53" y="498.38" width="7.15" height="11.06" fill="#FFD900"/>
<rect x="423.08" y="498.38" width="7.15" height="11.06" fill="#FF0800"/>
<rect x="429.63" y="498.38" width="7.15" height="11.06" fill="#FFF800"/>
<rect x="436.18" y="498.38" width="7.15" height="11.06" fill="#FF9A00"/>
<rect x="442.73" y="498.38" width="7.15" height="11.06" fill="#FFF800"/>
<rect x="449.28" y="498.38" width="7.15" height="11.06" fill="#FFF800"/>
<rect x="455.83" y="498.38" width="7.15" height="11.06" fill="#FF9A00"/>
<rect x="462.38" y="498.38" width="7.15" height="11.06" fill="#FFFF30"/>
<rect x="468.93" y="498.38" width="7.15" height="11.06" fill="#FFF800"/>
<rect x="475.48" y="498.38" width="7.15" height="11.06" fill="#FFF800"/>
<rect x="482.03" y="498.38" width="7.15" height="11.06" fill="#FFFF30"/>
<rect x="488.58" y="498.38" width="7.15" height="11.06" fill="#FFF800"/>
<rect x="495.13" y="498.38" width="7.15" height="11.06" fill="#FF4000"/>
<rect x="501.69" y="498.38" width="7.15" height="11.06" fill="#FF0800"/>
<rect x="508.24" y="498.38" width="7.15" height="11.06" fill="#FF9A00"/>
<rect x="514.79" y="498.38" width="7.15" height="11.06" fill="#FF7800"/>
<rect x="521.34" y="498.38" width="7.15" height="11.06" fill="#FF7800"/>
<rect x="527.89" y="498.38" width="7.15" height="11.06" fill="#FF7800"/>
<rect x="534.44" y="498.38" width="7.15" height="11.06" fill="#FF9A00"/>
<rect x="540.99" y="498.38" width="7.15" height="11.06" fill="#FF9A00"/>
<rect x="547.54" y="498.38" width="7.15" height="11.06" fill="#FFFFD8"/>
<rect x="554.09" y="498.38" width="7.15" height="11.06" fill="#FF7800"/>
<rect x="560.64" y="498.38" width="7.15" height="11.06" fill="#FF7800"/>
<rect x="567.19" y="498.38" width="7.15" height="11.06" fill="#FF4000"/>
<rect x="573.74" y="498.38" width="7.15" height="11.06" fill="#FF4000"/>
<rect x="580.29" y="498.38" width="7.15" height="11.06" fill="#FF4000"/>
<rect x="586.84" y="498.38" width="7.15" height="11.06" fill="#FF7800"/>
<rect x="593.39" y="498.38" width="7.15" height="11.06" fill="#FF7800"/>
<rect x="599.95" y="498.38" width="7.15" height="11.06" fill="#FF9A00"/>
<rect x="606.50" y="498.38" width="7.15" height="11.06" fill="#FF7800"/>
<rect x="613.05" y="498.38" width="7.15" height="11.06" fill="#FF9A00"/>
<rect x="619.60" y="498.38" width="7.15" height="11.06" fill="#FF7800"/>
<rect x="626.15" y="498.38" width="7.15" height="11.06" fill="#FF7800"/>
<rect x="632.70" y="498.38" width="7.15" height="11.06" fill="#FF4000"/>
<rect x="639.25" y="498.38" width="6.55" height="11.06" fill="#FF9A00"/>
<rect x="154.50" y="508.84" width="7.15" height="11.06" fill="#FF9A00"/>
<rect x="161.05" y="508.84" width="7.15" height="11.06" fill="#FFF800"/>
<rect x="167.60" y="508.84" width="7.15" height="11.06" fill="#FFD900"/>
<rect x="174.15" y="508.84" width="7.15" height="11.06" fill="#FFF800"/>
<rect x="180.70" y="508.84" width="7.15" height="11.06" fill="#FFD900"/>
<rect x="187.25" y="508.84" width="7.15" height="11.06" fill="#FF4000"/>
<rect x="193.80" y="508.84" width="7.15" height="11.06" fill="#FFF800"/>
<rect x="200.35" y="508.84" width="7.15" height="11.06" fill="#FFBE00"/>
<rect x="206.91" y="508.84" width="7.15" height="11.06" fill="#FFBE00"/>
<rect x="213.46" y="508.84" width="7.15" height="11.06" fill="#FFFF88"/>
<rect x="220.01" y="508.84" width="7.15" height="11.06" fill="#FFBE00"/>
<rect x="226.56" y="508.84" width="7.15" height="11.06" fill="#FF7800"/>
<rect x="233.11" y="508.84" width="7.15" height="11.06" fill="#FFF800"/>
<rect x="239.66" y="508.84" width="7.15" height="11.06" fill="#FFF800"/>
<rect x="246.21" y="508.84" width="7.15" height="11.06" fill="#FF0800"/>
<rect x="252.76" y="508.84" width="7.15" height="11.06" fill="#FFFFD8"/>
<rect x="259.31" y="508.84" width="7.15" height="11.06" fill="#FF4000"/>
<rect x="265.86" y="508.84" width="7.15" height="11.06" fill="#FFBE00"/>
<rect x="272.41" y="508.84" width="7.15" height="11.06" fill="#FF7800"/>
<rect x="278.96" y="508.84" width="7.15" height="11.06" fill="#FFBE00"/>
<rect x="285.51" y="508.84" width="7.15" height="11.06" fill="#FF4000"/>
<rect x="292.06" y="508.84" width="7.15" height="11.06" fill="#FFF800"/>
<rect x="298.61" y="508.84" width="7.15" height="11.06" fill="#FFBE00"/>
<rect x="305.17" y="508.84" width="7.15" height="11.06" fill="#FFF800"/>
<rect x="311.72" y="508.84" width="7.15" height="11.06" fill="#FF9A00"/>
<rect x="318.27" y="508.84" width="7.15" height="11.06" fill="#FF7800"/>
<rect x="324.82" y="508.84" width="7.15" height="11.06" fill="#FF0800"/>
<rect x="331.37" y="508.84" width="7.15" height="11.06" fill="#FFD900"/>
<rect x="337.92" y="508.84" width="7.15" height="11.06" fill="#FFD900"/>
<rect x="344.47" y="508.84" width="7.15" height="11.06" fill="#FF9A00"/>
<rect x="351.02" y="508.84" width="7.15" height="11.06" fill="#FFF800"/>
<rect x="357.57" y="508.84" width="7.15" height="11.06" fill="#FFBE00"/>
<rect x="364.12" y="508.84" width="7.15" height="11.06" fill="#FFD900"/>
<rect x="370.67" y="508.84" width="7.15" height="11.06" fill="#FFD900"/>
<rect x="377.22" y="508.84" width="7.15" height="11.06" fill="#FFBE00"/>
<rect x="383.77" y="508.84" width="7.15" height="11.06" fill="#FF7800"/>
<rect x="390.32" y="508.84" width="7.15" height="11.06" fill="#FF7800"/>
<rect x="396.87" y="508.84" width="7.15" height="11.06" fill="#FFFF30"/>
<rect x="403.43" y="508.84" width="7.15" height="11.06" fill="#FFF800"/>
<rect x="409.98" y="508.84" width="7.15" height="11.06" fill="#FFBE00"/>
<rect x="416.53" y="508.84" width="7.15" height="11.06" fill="#FFFFD8"/>
<rect x="423.08" y="508.84" width="7.15" height="11.06" fill="#FFBE00"/>
<rect x="429.63" y="508.84" width="7.15" height="11.06" fill="#FF0800"/>
<rect x="436.18" y="508.84" width="7.15" height="11.06" fill="#FFFF30"/>
<rect x="442.73" y="508.84" width="7.15" height="11.06" fill="#FFD900"/>
<rect x="449.28" y="508.84" width="7.15" height="11.06" fill="#FFD900"/>
<rect x="455.83" y="508.84" width="7.15" height="11.06" fill="#FF4000"/>
<rect x="462.38" y="508.84" width="7.15" height="11.06" fill="#FF9A00"/>
<rect x="468.93" y="508.84" width="7.15" height="11.06" fill="#FFFF88"/>
<rect x="475.48" y="508.84" width="7.15" height="11.06" fill="#FF9A00"/>
<rect x="482.03" y="508.84" width="7.15" height="11.06" fill="#FF0800"/>
<rect x="488.58" y="508.84" width="7.15" height="11.06" fill="#FFF800"/>
<rect x="495.13" y="508.84" width="7.15" height="11.06" fill="#FF4000"/>
<rect x="501.69" y="508.84" width="7.15" height="11.06" fill="#FFD900"/>
<rect x="508.24" y="508.84" width="7.15" height="11.06" fill="#FF4000"/>
<rect x="514.79" y="508.84" width="7.15" height="11.06" fill="#FF4000"/>
<rect x="521.34" y="508.84" width="7.15" height="11.06" fill="#FF4000"/>
<rect x="527.89" y="508.84" width="7.15" height="11.06" fill="#FF4000"/>
<rect x="534.44" y="508.84" width="7.15" height="11.06" fill="#FF4000"/>
<rect x="540.99" y="508.84" width="7.15" height="11.06" fill="#FF7800"/>
<rect x="547.54" y="508.84" width="7.15" height="11.06" fill="#FF4000"/>
<rect x="554.09" y="508.84" width="7.15" height="11.06" fill="#FF0800"/>
<rect x="560.64" y="508.84" width="7.15" height="11.06" fill="#FF0800"/>
<rect x="567.19" y="508.84" width="7.15" height="11.06" fill="#FFBE00"/>
<rect x="573.74" y="508.84" width="7.15" height="11.06" fill="#FFFF30"/>
<rect x="580.29" y="508.84" width="7.15" height="11.06" fill="#FFF800"/>
<rect x="586.84" y="508.84" width="7.15" height="11.06" fill="#FF7800"/>
<rect x="593.39" y="508.84" width="7.15" height="11.06" fill="#FF4000"/>
<rect x="599.95" y="508.84" width="7.15" height="11.06" fill="#FFBE00"/>
<rect x="606.50" y="508.84" width="7.15" height="11.06" fill="#FF7800"/>
<rect x="613.05" y="508.84" width="7.15" height="11.06" fill="#FFFF30"/>
<rect x="619.60" y="508.84" width="7.15" height="11.06" fill="#FF7800"/>
<rect x="626.15" y="508.84" width="7.15" height="11.06" fill="#FF7800"/>
<rect x="632.70" y="508.84" width="7.15" height="11.06" fill="#FF0800"/>
<rect x="639.25" y="508.84" width="6.55" height="11.06" fill="#FF7800"/>
<rect x="154.50" y="519.29" width="7.15" height="11.06" fill="#FFD900"/>
<rect x="161.05" y="519.29" width="7.15" height="11.06" fill="#FFD900"/>
<rect x="167.60" y="519.29" width="7.15" height="11.06" fill="#FFBE00"/>
<rect x="174.15" y="519.29" width="7.15" height="11.06" fill="#FFF800"/>
<rect x="180.70" y="519.29" width="7.15" height="11.06" fill="#FF9A00"/>
<rect x="187.25" y="519.29" width="7.15" height="11.06" fill="#FFD900"/>
<rect x="193.80" y="519.29" width="7.15" height="11.06" fill="#FFD900"/>
<rect x="200.35" y="519.29" width="7.15" height="11.06" fill="#FFFF30"/>
<rect x="206.91" y="519.29" width="7.15" height="11.06" fill="#FFBE00"/>
<rect x="213.46" y="519.29" width="7.15" height="11.06" fill="#FFBE00"/>
<rect x="220.01" y="519.29" width="7.15" height="11.06" fill="#FF4000"/>
<rect x="226.56" y="519.29" width="7.15" height="11.06" fill="#FFBE00"/>
<rect x="233.11" y="519.29" width="7.15" height="11.06" fill="#FF4000"/>
<rect x="239.66" y="519.29" width="7.15" height="11.06" fill="#FF4000"/>
<rect x="246.21" y="519.29" width="7.15" height="11.06" fill="#FF7800"/>
<rect x="252.76" y="519.29" width="7.15" height="11.06" fill="#FF9A00"/>
<rect x="259.31" y="519.29" width="7.15" height="11.06" fill="#FFF800"/>
<rect x="265.86" y="519.29" width="7.15" height="11.06" fill="#FF7800"/>
<rect x="272.41" y="519.29" width="7.15" height="11.06" fill="#FFBE00"/>
<rect x="278.96" y="519.29" width="7.15" height="11.06" fill="#FF7800"/>
<rect x="285.51" y="519.29" width="7.15" height="11.06" fill="#FFF800"/>
<rect x="292.06" y="519.29" width="7.15" height="11.06" fill="#FF7800"/>
<rect x="298.61" y="519.29" width="7.15" height="11.06" fill="#FF9A00"/>
<rect x="305.17" y="519.29" width="7.15" height="11.06" fill="#FF4000"/>
<rect x="311.72" y="519.29" width="7.15" height="11.06" fill="#FF4000"/>
<rect x="318.27" y="519.29" width="7.15" height="11.06" fill="#FFBE00"/>
<rect x="324.82" y="519.29" width="7.15" height="11.06" fill="#FF7800"/>
<rect x="331.37" y="519.29" width="7.15" height="11.06" fill="#FFBE00"/>
<rect x="337.92" y="519.29" width="7.15" height="11.06" fill="#FFBE00"/>
<rect x="344.47" y="519.29" width="7.15" height="11.06" fill="#FFBE00"/>
<rect x="351.02" y="519.29" width="7.15" height="11.06" fill="#FFBE00"/>
<rect x="357.57" y="519.29" width="7.15" height="11.06" fill="#FFFFD8"/>
<rect x="364.12" y="519.29" width="7.15" height="11.06" fill="#FFBE00"/>
<rect x="370.67" y="519.29" width="7.15" height="11.06" fill="#FFD900"/>
<rect x="377.22" y="519.29" width="7.15" height="11.06" fill="#FFF800"/>
<rect x="383.77" y="519.29" width="7.15" height="11.06" fill="#FFFF88"/>
<rect x="390.32" y="519.29" width="7.15" height="11.06" fill="#FFF800"/>
<rect x="396.87" y="519.29" width="7.15" height="11.06" fill="#FFFF88"/>
<rect x="403.43" y="519.29" width="7.15" height="11.06" fill="#FFBE00"/>
<rect x="409.98" y="519.29" width="7.15" height="11.06" fill="#FFBE00"/>
<rect x="416.53" y="519.29" width="7.15" height="11.06" fill="#FFFF88"/>
<rect x="423.08" y="519.29" width="7.15" height="11.06" fill="#FFBE00"/>
<rect x="429.63" y="519.29" width="7.15" height="11.06" fill="#FFBE00"/>
<rect x="436.18" y="519.29" width="7.15" height="11.06" fill="#FFBE00"/>
<rect x="442.73" y="519.29" width="7.15" height="11.06" fill="#FFBE00"/>
<rect x="449.28" y="519.29" width="7.15" height="11.06" fill="#FFBE00"/>
<rect x="455.83" y="519.29" width="7.15" height="11.06" fill="#FF7800"/>
<rect x="462.38" y="519.29" width="7.15" height="11.06" fill="#FFFFD8"/>
<rect x="468.93" y="519.29" width="7.15" height="11.06" fill="#FFD900"/>
<rect x="475.48" y="519.29" width="7.15" height="11.06" fill="#FFBE00"/>
<rect x="482.03" y="519.29" width="7.15" height="11.06" fill="#FFFF30"/>
<rect x="488.58" y="519.29" width="7.15" height="11.06" fill="#FFBE00"/>
<rect x="495.13" y="519.29" width="7.15" height="11.06" fill="#FFFF88"/>
<rect x="501.69" y="519.29" width="7.15" height="11.06" fill="#FFBE00"/>
<rect x="508.24" y="519.29" width="7.15" height="11.06" fill="#FF0800"/>
<rect x="514.79" y="519.29" width="7.15" height="11.06" fill="#FF4000"/>
<rect x="521.34" y="519.29" width="7.15" height="11.06" fill="#FF4000"/>
<rect x="527.89" y="519.29" width="7.15" height="11.06" fill="#FF4000"/>
<rect x="534.44" y="519.29" width="7.15" height="11.06" fill="#FF0800"/>
<rect x="540.99" y="519.29" width="7.15" height="11.06" fill="#FF9A00"/>
<rect x="547.54" y="519.29" width="7.15" height="11.06" fill="#FFF800"/>
<rect x="554.09" y="519.29" width="7.15" height="11.06" fill="#FFF800"/>
<rect x="560.64" y="519.29" width="7.15" height="11.06" fill="#FFBE00"/>
<rect x="567.19" y="519.29" width="7.15" height="11.06" fill="#FFFFD8"/>
<rect x="573.74" y="519.29" width="7.15" height="11.06" fill="#FF0800"/>
<rect x="580.29" y="519.29" width="7.15" height="11.06" fill="#FF7800"/>
<rect x="586.84" y="519.29" width="7.15" height="11.06" fill="#FF4000"/>
<rect x="593.39" y="519.29" width="7.15" height="11.06" fill="#FFFF88"/>
<rect x="599.95" y="519.29" width="7.15" height="11.06" fill="#FFF800"/>
<rect x="606.50" y="519.29" width="7.15" height="11.06" fill="#FF7800"/>
<rect x="613.05" y="519.29" width="7.15" height="11.06" fill="#FF9A00"/>
<rect x="619.60" y="519.29" width="7.15" height="11.06" fill="#FF0800"/>
<rect x="626.15" y="519.29" width="7.15" height="11.06" fill="#FF9A00"/>
<rect x="632.70" y="519.29" width="7.15" height="11.06" fill="#FFBE00"/>
<rect x="639.25" y="519.29" width="6.55" height="11.06" fill="#FF7800"/>
<rect x="154.50" y="529.75" width="7.15" height="11.06" fill="#FFBE00"/>
<rect x="161.05" y="529.75" width="7.15" height="11.06" fill="#FFD900"/>
<rect x="167.60" y="529.75" width="7.15" height="11.06" fill="#FFFF88"/>
<rect x="174.15" y="529.75" width="7.15" height="11.06" fill="#FF9A00"/>
<rect x="180.70" y="529.75" width="7.15" height="11.06" fill="#FF9A00"/>
<rect x="187.25" y="529.75" width="7.15" height="11.06" fill="#FFD900"/>
<rect x="193.80" y="529.75" width="7.15" height="11.06" fill="#FF7800"/>
<rect x="200.35" y="529.75" width="7.15" height="11.06" fill="#FFBE00"/>
<rect x="206.91" y="529.75" width="7.15" height="11.06" fill="#FFF800"/>
<rect x="213.46" y="529.75" width="7.15" height="11.06" fill="#FF7800"/>
<rect x="220.01" y="529.75" width="7.15" height="11.06" fill="#FFFF88"/>
<rect x="226.56" y="529.75" width="7.15" height="11.06" fill="#FFFF88"/>
<rect x="233.11" y="529.75" width="7.15" height="11.06" fill="#FFF800"/>
<rect x="239.66" y="529.75" width="7.15" height="11.06" fill="#FFFFD8"/>
<rect x="246.21" y="529.75" width="7.15" height="11.06" fill="#FFFF88"/>
<rect x="252.76" y="529.75" width="7.15" height="11.06" fill="#FFF800"/>
<rect x="259.31" y="529.75" width="7.15" height="11.06" fill="#FF9A00"/>
<rect x="265.86" y="529.75" width="7.15" height="11.06" fill="#FF9A00"/>
<rect x="272.41" y="529.75" width="7.15" height="11.06" fill="#FFD900"/>
<rect x="278.96" y="529.75" width="7.15" height="11.06" fill="#FFFF88"/>
<rect x="285.51" y="529.75" width="7.15" height="11.06" fill="#FF7800"/>
<rect x="292.06" y="529.75" width="7.15" height="11.06" fill="#FFFF88"/>
<rect x="298.61" y="529.75" width="7.15" height="11.06" fill="#FFFF88"/>
<rect x="305.17" y="529.75" width="7.15" height="11.06" fill="#FF0800"/>
<rect x="311.72" y="529.75" width="7.15" height="11.06" fill="#FF4000"/>
<rect x="318.27" y="529.75" width="7.15" height="11.06" fill="#FFBE00"/>
<rect x="324.82" y="529.75" width="7.15" height="11.06" fill="#FFFF88"/>
<rect x="331.37" y="529.75" width="7.15" height="11.06" fill="#FFFF88"/>
<rect x="337.92" y="529.75" width="7.15" height="11.06" fill="#FFF800"/>
<rect x="344.47" y="529.75" width="7.15" height="11.06" fill="#FF7800"/>
<rect x="351.02" y="529.75" width="7.15" height="11.06" fill="#FFFF88"/>
<rect x="357.57" y="529.75" width="7.15" height="11.06" fill="#FFFF88"/>
<rect x="364.12" y="529.75" width="7.15" height="11.06" fill="#FFD900"/>
<rect x="370.67" y="529.75" width="7.15" height="11.06" fill="#FF4000"/>
<rect x="377.22" y="529.75" width="7.15" height="11.06" fill="#FFF800"/>
<rect x="383.77" y="529.75" width="7.15" height="11.06" fill="#FF4000"/>
<rect x="390.32" y="529.75" width="7.15" height="11.06" fill="#FF9A00"/>
<rect x="396.87" y="529.75" width="7.15" height="11.06" fill="#FFD900"/>
<rect x="403.43" y="529.75" width="7.15" height="11.06" fill="#FF4000"/>
<rect x="409.98" y="529.75" width="7.15" height="11.06" fill="#FFFF88"/>
<rect x="416.53" y="529.75" width="7.15" height="11.06" fill="#FF9A00"/>
<rect x="423.08" y="529.75" width="7.15" height="11.06" fill="#FFFF88"/>
<rect x="429.63" y="529.75" width="7.15" height="11.06" fill="#FFFF88"/>
<rect x="436.18" y="529.75" width="7.15" height="11.06" fill="#FFFFD8"/>
<rect x="442.73" y="529.75" width="7.15" height="11.06" fill="#FFF800"/>
<rect x="449.28" y="529.75" width="7.15" height="11.06" fill="#FFF800"/>
<rect x="455.83" y="529.75" width="7.15" height="11.06" fill="#FFFF88"/>
<rect x="462.38" y="529.75" width="7.15" height="11.06" fill="#FFFF88"/>
<rect x="468.93" y="529.75" width="7.15" height="11.06" fill="#FF4000"/>
<rect x="475.48" y="529.75" width="7.15" height="11.06" fill="#FFFF30"/>
<rect x="482.03" y="529.75" width="7.15" height="11.06" fill="#FFFFD8"/>
<rect x="488.58" y="529.75" width="7.15" height="11.06" fill="#FF4000"/>
<rect x="495.13" y="529.75" width="7.15" height="11.06" fill="#FFFF88"/>
<rect x="501.69" y="529.75" width="7.15" height="11.06" fill="#FFF800"/>
<rect x="508.24" y="529.75" width="7.15" height="11.06" fill="#FF4000"/>
<rect x="514.79" y="529.75" width="7.15" height="11.06" fill="#FF0800"/>
<rect x="521.34" y="529.75" width="7.15" height="11.06" fill="#FF4000"/>
<rect x="527.89" y="529.75" width="7.15" height="11.06" fill="#FF7800"/>
<rect x="534.44" y="529.75" width="7.15" height="11.06" fill="#FFBE00"/>
<rect x="540.99" y="529.75" width="7.15" height="11.06" fill="#FF4000"/>
<rect x="547.54" y="529.75" width="7.15" height="11.06" fill="#FFD900"/>
<rect x="554.09" y="529.75" width="7.15" height="11.06" fill="#FFF800"/>
<rect x="560.64" y="529.75" width="7.15" height="11.06" fill="#FF4000"/>
<rect x="567.19" y="529.75" width="7.15" height="11.06" fill="#FF9A00"/>
<rect x="573.74" y="529.75" width="7.15" height="11.06" fill="#FF7800"/>
<rect x="580.29" y="529.75" width="7.15" height="11.06" fill="#FF4000"/>
<rect x="586.84" y="529.75" width="7.15" height="11.06" fill="#FFF800"/>
<rect x="593.39" y="529.75" width="7.15" height="11.06" fill="#FF9A00"/>
<rect x="599.95" y="529.75" width="7.15" height="11.06" fill="#FF9A00"/>
<rect x="606.50" y="529.75" width="7.15" height="11.06" fill="#FFF800"/>
<rect x="613.05" y="529.75" width="7.15" height="11.06" fill="#FF4000"/>
<rect x="619.60" y="529.75" width="7.15" height="11.06" fill="#FF9A00"/>
<rect x="626.15" y="529.75" width="7.15" height="11.06" fill="#FFBE00"/>
<rect x="632.70" y="529.75" width="7.15" height="11.06" fill="#FF4000"/>
<rect x="639.25" y="529.75" width="6.55" height="11.06" fill="#FFD900"/>
<rect x="154.50" y="540.21" width="7.15" height="11.06" fill="#FFD900"/>
<rect x="161.05" y="540.21" width="7.15" height="11.06" fill="#FFD900"/>
<rect x="167.60" y="540.21" width="7.15" height="11.06" fill="#FFD900"/>
<rect x="174.15" y="540.21" width="7.15" height="11.06" fill="#FFF800"/>
<rect x="180.70" y="540.21" width="7.15" height="11.06" fill="#FF9A00"/>
<rect x="187.25" y="540.21" width="7.15" height="11.06" fill="#FFD900"/>
<rect x="193.80" y="540.21" width="7.15" height="11.06" fill="#FFF800"/>
<rect x="200.35" y="540.21" width="7.15" height="11.06" fill="#FFBE00"/>
<rect x="206.91" y="540.21" width="7.15" height="11.06" fill="#FFBE00"/>
<rect x="213.46" y="540.21" width="7.15" height="11.06" fill="#FFBE00"/>
<rect x="220.01" y="540.21" width="7.15" height="11.06" fill="#FF4000"/>
<rect x="226.56" y="540.21" width="7.15" height="11.06" fill="#FFFF30"/>
<rect x="233.11" y="540.21" width="7.15" height="11.06" fill="#FFF800"/>
<rect x="239.66" y="540.21" width="7.15" height="11.06" fill="#FFFF30"/>
<rect x="246.21" y="540.21" width="7.15" height="11.06" fill="#FF7800"/>
<rect x="252.76" y="540.21" width="7.15" height="11.06" fill="#FF4000"/>
<rect x="259.31" y="540.21" width="7.15" height="11.06" fill="#FF0800"/>
<rect x="265.86" y="540.21" width="7.15" height="11.06" fill="#FF7800"/>
<rect x="272.41" y="540.21" width="7.15" height="11.06" fill="#FFD900"/>
<rect x="278.96" y="540.21" width="7.15" height="11.06" fill="#FF4000"/>
<rect x="285.51" y="540.21" width="7.15" height="11.06" fill="#FFBE00"/>
<rect x="292.06" y="540.21" width="7.15" height="11.06" fill="#FFFFD8"/>
<rect x="298.61" y="540.21" width="7.15" height="11.06" fill="#FF4000"/>
<rect x="305.17" y="540.21" width="7.15" height="11.06" fill="#FF7800"/>
<rect x="311.72" y="540.21" width="7.15" height="11.06" fill="#FF7800"/>
<rect x="318.27" y="540.21" width="7.15" height="11.06" fill="#FF7800"/>
<rect x="324.82" y="540.21" width="7.15" height="11.06" fill="#FF4000"/>
<rect x="331.37" y="540.21" width="7.15" height="11.06" fill="#FFFF88"/>
<rect x="337.92" y="540.21" width="7.15" height="11.06" fill="#FFFF88"/>
<rect x="344.47" y="540.21" width="7.15" height="11.06" fill="#FFFF88"/>
<rect x="351.02" y="540.21" width="7.15" height="11.06" fill="#FFFF88"/>
<rect x="357.57" y="540.21" width="7.15" height="11.06" fill="#FF9A00"/>
<rect x="364.12" y="540.21" width="7.15" height="11.06" fill="#FFFF88"/>
<rect x="370.67" y="540.21" width="7.15" height="11.06" fill="#FFD900"/>
<rect x="377.22" y="540.21" width="7.15" height="11.06" fill="#FF7800"/>
<rect x="383.77" y="540.21" width="7.15" height="11.06" fill="#FF7800"/>
<rect x="390.32" y="540.21" width="7.15" height="11.06" fill="#FFF800"/>
<rect x="396.87" y="540.21" width="7.15" height="11.06" fill="#FF9A00"/>
<rect x="403.43" y="540.21" width="7.15" height="11.06" fill="#FFFF88"/>
<rect x="409.98" y="540.21" width="7.15" height="11.06" fill="#FF7800"/>
<rect x="416.53" y="540.21" width="7.15" height="11.06" fill="#FF9A00"/>
<rect x="423.08" y="540.21" width="7.15" height="11.06" fill="#FFFF88"/>
<rect x="429.63" y="540.21" width="7.15" height="11.06" fill="#FFFF88"/>
<rect x="436.18" y="540.21" width="7.15" height="11.06" fill="#FFF800"/>
<rect x="442.73" y="540.21" width="7.15" height="11.06" fill="#FFFF88"/>
<rect x="449.28" y="540.21" width="7.15" height="11.06" fill="#FFFF88"/>
<rect x="455.83" y="540.21" width="7.15" height="11.06" fill="#FFFFD8"/>
<rect x="462.38" y="540.21" width="7.15" height="11.06" fill="#FF4000"/>
<rect x="468.93" y="540.21" width="7.15" height="11.06" fill="#FF9A00"/>
<rect x="475.48" y="540.21" width="7.15" height="11.06" fill="#FFFF88"/>
<rect x="482.03" y="540.21" width="7.15" height="11.06" fill="#FFF800"/>
<rect x="488.58" y="540.21" width="7.15" height="11.06" fill="#FFF800"/>
<rect x="495.13" y="540.21" width="7.15" height="11.06" fill="#FF7800"/>
<rect x="501.69" y="540.21" width="7.15" height="11.06" fill="#FFFF88"/>
<rect x="508.24" y="540.21" width="7.15" height="11.06" fill="#FF7800"/>
<rect x="514.79" y="540.21" width="7.15" height="11.06" fill="#FF4000"/>
<rect x="521.34" y="540.21" width="7.15" height="11.06" fill="#FF7800"/>
<rect x="527.89" y="540.21" width="7.15" height="11.06" fill="#FF7800"/>
<rect x="534.44" y="540.21" width="7.15" height="11.06" fill="#FF7800"/>
<rect x="540.99" y="540.21" width="7.15" height="11.06" fill="#FF4000"/>
<rect x="547.54" y="540.21" width="7.15" height="11.06" fill="#FFBE00"/>
<rect x="554.09" y="540.21" width="7.15" height="11.06" fill="#FFD900"/>
<rect x="560.64" y="540.21" width="7.15" height="11.06" fill="#FFD900"/>
<rect x="567.19" y="540.21" width="7.15" height="11.06" fill="#FF9A00"/>
<rect x="573.74" y="540.21" width="7.15" height="11.06" fill="#FFBE00"/>
<rect x="580.29" y="540.21" width="7.15" height="11.06" fill="#FF4000"/>
<rect x="586.84" y="540.21" width="7.15" height="11.06" fill="#FFFFD8"/>
<rect x="593.39" y="540.21" width="7.15" height="11.06" fill="#FF7800"/>
<rect x="599.95" y="540.21" width="7.15" height="11.06" fill="#FFF800"/>
<rect x="606.50" y="540.21" width="7.15" height="11.06" fill="#FF9A00"/>
<rect x="613.05" y="540.21" width="7.15" height="11.06" fill="#FF7800"/>
<rect x="619.60" y="540.21" width="7.15" height="11.06" fill="#FF9A00"/>
<rect x="626.15" y="540.21" width="7.15" height="11.06" fill="#FF7800"/>
<rect x="632.70" y="540.21" width="7.15" height="11.06" fill="#FF7800"/>
<rect x="639.25" y="540.21" width="6.55" height="11.06" fill="#FFBE00"/>
<rect x="154.50" y="550.66" width="7.15" height="11.06" fill="#FFD900"/>
<rect x="161.05" y="550.66" width="7.15" height="11.06" fill="#FFD900"/>
<rect x="167.60" y="550.66" width="7.15" height="11.06" fill="#FFBE00"/>
<rect x="174.15" y="550.66" width="7.15" height="11.06" fill="#FFF800"/>
<rect x="180.70" y="550.66" width="7.15" height="11.06" fill="#FFD900"/>
<rect x="187.25" y="550.66" width="7.15" height="11.06" fill="#FFD900"/>
<rect x="193.80" y="550.66" width="7.15" height="11.06" fill="#FFF800"/>
<rect x="200.35" y="550.66" width="7.15" height="11.06" fill="#FFD900"/>
<rect x="206.91" y="550.66" width="7.15" height="11.06" fill="#FFBE00"/>
<rect x="213.46" y="550.66" width="7.15" height="11.06" fill="#FFFF30"/>
<rect x="220.01" y="550.66" width="7.15" height="11.06" fill="#FF4000"/>
<rect x="226.56" y="550.66" width="7.15" height="11.06" fill="#FF0800"/>
<rect x="233.11" y="550.66" width="7.15" height="11.06" fill="#FFBE00"/>
<rect x="239.66" y="550.66" width="7.15" height="11.06" fill="#FF4000"/>
<rect x="246.21" y="550.66" width="7.15" height="11.06" fill="#FFD900"/>
<rect x="252.76" y="550.66" width="7.15" height="11.06" fill="#FF7800"/>
<rect x="259.31" y="550.66" width="7.15" height="11.06" fill="#FF0800"/>
<rect x="265.86" y="550.66" width="7.15" height="11.06" fill="#FF9A00"/>
<rect x="272.41" y="550.66" width="7.15" height="11.06" fill="#FF0800"/>
<rect x="278.96" y="550.66" width="7.15" height="11.06" fill="#FF7800"/>
<rect x="285.51" y="550.66" width="7.15" height="11.06" fill="#FF4000"/>
<rect x="292.06" y="550.66" width="7.15" height="11.06" fill="#FF9A00"/>
<rect x="298.61" y="550.66" width="7.15" height="11.06" fill="#FF9A00"/>
<rect x="305.17" y="550.66" width="7.15" height="11.06" fill="#FF0800"/>
<rect x="311.72" y="550.66" width="7.15" height="11.06" fill="#FF7800"/>
<rect x="318.27" y="550.66" width="7.15" height="11.06" fill="#FF4000"/>
<rect x="324.82" y="550.66" width="7.15" height="11.06" fill="#FF4000"/>
<rect x="331.37" y="550.66" width="7.15" height="11.06" fill="#FFD900"/>
<rect x="337.92" y="550.66" width="7.15" height="11.06" fill="#FFF800"/>
<rect x="344.47" y="550.66" width="7.15" height="11.06" fill="#FFFF30"/>
<rect x="351.02" y="550.66" width="7.15" height="11.06" fill="#FFF800"/>
<rect x="357.57" y="550.66" width="7.15" height="11.06" fill="#FFF800"/>
<rect x="364.12" y="550.66" width="7.15" height="11.06" fill="#FFF800"/>
<rect x="370.67" y="550.66" width="7.15" height="11.06" fill="#FFF800"/>
<rect x="377.22" y="550.66" width="7.15" height="11.06" fill="#FFD900"/>
<rect x="383.77" y="550.66" width="7.15" height="11.06" fill="#FFD900"/>
<rect x="390.32" y="550.66" width="7.15" height="11.06" fill="#FF0800"/>
<rect x="396.87" y="550.66" width="7.15" height="11.06" fill="#FFF800"/>
<rect x="403.43" y="550.66" width="7.15" height="11.06" fill="#FFFF30"/>
<rect x="409.98" y="550.66" width="7.15" height="11.06" fill="#FF0800"/>
<rect x="416.53" y="550.66" width="7.15" height="11.06" fill="#FFD900"/>
<rect x="423.08" y="550.66" width="7.15" height="11.06" fill="#FF9A00"/>
<rect x="429.63" y="550.66" width="7.15" height="11.06" fill="#FFFF30"/>
<rect x="436.18" y="550.66" width="7.15" height="11.06" fill="#FFFF88"/>
<rect x="442.73" y="550.66" width="7.15" height="11.06" fill="#FFFF30"/>
<rect x="449.28" y="550.66" width="7.15" height="11.06" fill="#FFFF30"/>
<rect x="455.83" y="550.66" width="7.15" height="11.06" fill="#FF9A00"/>
<rect x="462.38" y="550.66" width="7.15" height="11.06" fill="#FF7800"/>
<rect x="468.93" y="550.66" width="7.15" height="11.06" fill="#FFD900"/>
<rect x="475.48" y="550.66" width="7.15" height="11.06" fill="#FFFF30"/>
<rect x="482.03" y="550.66" width="7.15" height="11.06" fill="#FFBE00"/>
<rect x="488.58" y="550.66" width="7.15" height="11.06" fill="#FFF800"/>
<rect x="495.13" y="550.66" width="7.15" height="11.06" fill="#FFFFD8"/>
<rect x="501.69" y="550.66" width="7.15" height="11.06" fill="#FFF800"/>
<rect x="508.24" y="550.66" width="7.15" height="11.06" fill="#FF7800"/>
<rect x="514.79" y="550.66" width="7.15" height="11.06" fill="#FF4000"/>
<rect x="521.34" y="550.66" width="7.15" height="11.06" fill="#FF9A00"/>
<rect x="527.89" y="550.66" width="7.15" height="11.06" fill="#FF9A00"/>
<rect x="534.44" y="550.66" width="7.15" height="11.06" fill="#FF7800"/>
<rect x="540.99" y="550.66" width="7.15" height="11.06" fill="#FF7800"/>
<rect x="547.54" y="550.66" width="7.15" height="11.06" fill="#FF7800"/>
<rect x="554.09" y="550.66" width="7.15" height="11.06" fill="#FF7800"/>
<rect x="560.64" y="550.66" width="7.15" height="11.06" fill="#FFFFD8"/>
<rect x="567.19" y="550.66" width="7.15" height="11.06" fill="#FFFFD8"/>
<rect x="573.74" y="550.66" width="7.15" height="11.06" fill="#FFD900"/>
<rect x="580.29" y="550.66" width="7.15" height="11.06" fill="#FFF800"/>
<rect x="586.84" y="550.66" width="7.15" height="11.06" fill="#FF7800"/>
<rect x="593.39" y="550.66" width="7.15" height="11.06" fill="#FFBE00"/>
<rect x="599.95" y="550.66" width="7.15" height="11.06" fill="#FF4000"/>
<rect x="606.50" y="550.66" width="7.15" height="11.06" fill="#FF9A00"/>
<rect x="613.05" y="550.66" width="7.15" height="11.06" fill="#FF9A00"/>
<rect x="619.60" y="550.66" width="7.15" height="11.06" fill="#FF9A00"/>
<rect x="626.15" y="550.66" width="7.15" height="11.06" fill="#FFBE00"/>
<rect x="632.70" y="550.66" width="7.15" height="11.06" fill="#FFD900"/>
<rect x="639.25" y="550.66" width="6.55" height="11.06" fill="#FF9A00"/>
<rect x="154.50" y="561.12" width="7.15" height="11.06" fill="#FF9A00"/>
<rect x="161.05" y="561.12" width="7.15" height="11.06" fill="#FF9A00"/>
<rect x="167.60" y="561.12" width="7.15" height="11.06" fill="#FFD900"/>
<rect x="174.15" y="561.12" width="7.15" height="11.06" fill="#FFBE00"/>
<rect x="180.70" y="561.12" width="7.15" height="11.06" fill="#FFFF30"/>
<rect x="187.25" y="561.12" width="7.15" height="11.06" fill="#FFFF88"/>
<rect x="193.80" y="561.12" width="7.15" height="11.06" fill="#FF9A00"/>
<rect x="200.35" y="561.12" width="7.15" height="11.06" fill="#FF7800"/>
<rect x="206.91" y="561.12" width="7.15" height="11.06" fill="#FFFF88"/>
<rect x="213.46" y="561.12" width="7.15" height="11.06" fill="#FF4000"/>
<rect x="220.01" y="561.12" width="7.15" height="11.06" fill="#FFFF30"/>
<rect x="226.56" y="561.12" width="7.15" height="11.06" fill="#FF0800"/>
<rect x="233.11" y="561.12" width="7.15" height="11.06" fill="#FF9A00"/>
<rect x="239.66" y="561.12" width="7.15" height="11.06" fill="#FF7800"/>
<rect x="246.21" y="561.12" width="7.15" height="11.06" fill="#FF9A00"/>
<rect x="252.76" y="561.12" width="7.15" height="11.06" fill="#FF4000"/>
<rect x="259.31" y="561.12" width="7.15" height="11.06" fill="#FF9A00"/>
<rect x="265.86" y="561.12" width="7.15" height="11.06" fill="#FF9A00"/>
<rect x="272.41" y="561.12" width="7.15" height="11.06" fill="#FF7800"/>
<rect x="278.96" y="561.12" width="7.15" height="11.06" fill="#FFFF30"/>
<rect x="285.51" y="561.12" width="7.15" height="11.06" fill="#FFFFD8"/>
<rect x="292.06" y="561.12" width="7.15" height="11.06" fill="#FF0800"/>
<rect x="298.61" y="561.12" width="7.15" height="11.06" fill="#FFFF30"/>
<rect x="305.17" y="561.12" width="7.15" height="11.06" fill="#FF0800"/>
<rect x="311.72" y="561.12" width="7.15" height="11.06" fill="#FFFFD8"/>
<rect x="318.27" y="561.12" width="7.15" height="11.06" fill="#FFD900"/>
<rect x="324.82" y="561.12" width="7.15" height="11.06" fill="#FFF800"/>
<rect x="331.37" y="561.12" width="7.15" height="11.06" fill="#FFF800"/>
<rect x="337.92" y="561.12" width="7.15" height="11.06" fill="#FFF800"/>
<rect x="344.47" y="561.12" width="7.15" height="11.06" fill="#FFFFD8"/>
<rect x="351.02" y="561.12" width="7.15" height="11.06" fill="#FF9A00"/>
<rect x="357.57" y="561.12" width="7.15" height="11.06" fill="#FFFF30"/>
<rect x="364.12" y="561.12" width="7.15" height="11.06" fill="#FFF800"/>
<rect x="370.67" y="561.12" width="7.15" height="11.06" fill="#FFF800"/>
<rect x="377.22" y="561.12" width="7.15" height="11.06" fill="#FFFF30"/>
<rect x="383.77" y="561.12" width="7.15" height="11.06" fill="#FFFFD8"/>
<rect x="390.32" y="561.12" width="7.15" height="11.06" fill="#FFFF88"/>
<rect x="396.87" y="561.12" width="7.15" height="11.06" fill="#FFBE00"/>
<rect x="403.43" y="561.12" width="7.15" height="11.06" fill="#FFBE00"/>
<rect x="409.98" y="561.12" width="7.15" height="11.06" fill="#FFFF30"/>
<rect x="416.53" y="561.12" width="7.15" height="11.06" fill="#FF7800"/>
<rect x="423.08" y="561.12" width="7.15" height="11.06" fill="#FFFF30"/>
<rect x="429.63" y="561.12" width="7.15" height="11.06" fill="#FF9A00"/>
<rect x="436.18" y="561.12" width="7.15" height="11.06" fill="#FFF800"/>
<rect x="442.73" y="561.12" width="7.15" height="11.06" fill="#FFF800"/>
<rect x="449.28" y="561.12" width="7.15" height="11.06" fill="#FFF800"/>
<rect x="455.83" y="561.12" width="7.15" height="11.06" fill="#FFFF30"/>
<rect x="462.38" y="561.12" width="7.15" height="11.06" fill="#FFFF30"/>
<rect x="468.93" y="561.12" width="7.15" height="11.06" fill="#FFBE00"/>
<rect x="475.48" y="561.12" width="7.15" height="11.06" fill="#FFFF30"/>
<rect x="482.03" y="561.12" width="7.15" height="11.06" fill="#FFBE00"/>
<rect x="488.58" y="561.12" width="7.15" height="11.06" fill="#FFD900"/>
<rect x="495.13" y="561.12" width="7.15" height="11.06" fill="#FFFF88"/>
<rect x="501.69" y="561.12" width="7.15" height="11.06" fill="#FFF800"/>
<rect x="508.24" y="561.12" width="7.15" height="11.06" fill="#FF4000"/>
<rect x="514.79" y="561.12" width="7.15" height="11.06" fill="#FF4000"/>
<rect x="521.34" y="561.12" width="7.15" height="11.06" fill="#FF9A00"/>
<rect x="527.89" y="561.12" width="7.15" height="11.06" fill="#FF4000"/>
<rect x="534.44" y="561.12" width="7.15" height="11.06" fill="#FF9A00"/>
<rect x="540.99" y="561.12" width="7.15" height="11.06" fill="#FF4000"/>
<rect x="547.54" y="561.12" width="7.15" height="11.06" fill="#FF9A00"/>
<rect x="554.09" y="561.12" width="7.15" height="11.06" fill="#FF9A00"/>
<rect x="560.64" y="561.12" width="7.15" height="11.06" fill="#FFBE00"/>
<rect x="567.19" y="561.12" width="7.15" height="11.06" fill="#FF4000"/>
<rect x="573.74" y="561.12" width="7.15" height="11.06" fill="#FF4000"/>
<rect x="580.29" y="561.12" width="7.15" height="11.06" fill="#FFD900"/>
<rect x="586.84" y="561.12" width="7.15" height="11.06" fill="#FFD900"/>
<rect x="593.39" y="561.12" width="7.15" height="11.06" fill="#FFD900"/>
<rect x="599.95" y="561.12" width="7.15" height="11.06" fill="#FFD900"/>
<rect x="606.50" y="561.12" width="7.15" height="11.06" fill="#FFBE00"/>
<rect x="613.05" y="561.12" width="7.15" height="11.06" fill="#FF9A00"/>
<rect x="619.60" y="561.12" width="7.15" height="11.06" fill="#FF9A00"/>
<rect x="626.15" y="561.12" width="7.15" height="11.06" fill="#FF7800"/>
<rect x="632.70" y="561.12" width="7.15" height="11.06" fill="#FFD900"/>
<rect x="639.25" y="561.12" width="6.55" height="11.06" fill="#FF9A00"/>
<rect x="154.50" y="571.58" width="7.15" height="11.06" fill="#FF0800"/>
<rect x="161.05" y="571.58" width="7.15" height="11.06" fill="#FF0800"/>
<rect x="167.60" y="571.58" width="7.15" height="11.06" fill="#FF0800"/>
<rect x="174.15" y="571.58" width="7.15" height="11.06" fill="#FF0800"/>
<rect x="180.70" y="571.58" width="7.15" height="11.06" fill="#FF4000"/>
<rect x="187.25" y="571.58" width="7.15" height="11.06" fill="#FF0800"/>
<rect x="193.80" y="571.58" width="7.15" height="11.06" fill="#FF0800"/>
<rect x="200.35" y="571.58" width="7.15" height="11.06" fill="#FF0800"/>
<rect x="206.91" y="571.58" width="7.15" height="11.06" fill="#FF0800"/>
<rect x="213.46" y="571.58" width="7.15" height="11.06" fill="#FF0800"/>
<rect x="220.01" y="571.58" width="7.15" height="11.06" fill="#FFFF30"/>
<rect x="226.56" y="571.58" width="7.15" height="11.06" fill="#FF0800"/>
<rect x="233.11" y="571.58" width="7.15" height="11.06" fill="#FF4000"/>
<rect x="239.66" y="571.58" width="7.15" height="11.06" fill="#FF4000"/>
<rect x="246.21" y="571.58" width="7.15" height="11.06" fill="#FF7800"/>
<rect x="252.76" y="571.58" width="7.15" height="11.06" fill="#FF9A00"/>
<rect x="259.31" y="571.58" width="7.15" height="11.06" fill="#FF9A00"/>
<rect x="265.86" y="571.58" width="7.15" height="11.06" fill="#FF9A00"/>
<rect x="272.41" y="571.58" width="7.15" height="11.06" fill="#FF0800"/>
<rect x="278.96" y="571.58" width="7.15" height="11.06" fill="#FFFF30"/>
<rect x="285.51" y="571.58" width="7.15" height="11.06" fill="#FF0800"/>
<rect x="292.06" y="571.58" width="7.15" height="11.06" fill="#FF7800"/>
<rect x="298.61" y="571.58" width="7.15" height="11.06" fill="#FFFFD8"/>
<rect x="305.17" y="571.58" width="7.15" height="11.06" fill="#FFFFD8"/>
<rect x="311.72" y="571.58" width="7.15" height="11.06" fill="#FFBE00"/>
<rect x="318.27" y="571.58" width="7.15" height="11.06" fill="#FF4000"/>
<rect x="324.82" y="571.58" width="7.15" height="11.06" fill="#FFFFD8"/>
<rect x="331.37" y="571.58" width="7.15" height="11.06" fill="#FF9A00"/>
<rect x="337.92" y="571.58" width="7.15" height="11.06" fill="#FF9A00"/>
<rect x="344.47" y="571.58" width="7.15" height="11.06" fill="#FF9A00"/>
<rect x="351.02" y="571.58" width="7.15" height="11.06" fill="#FF9A00"/>
<rect x="357.57" y="571.58" width="7.15" height="11.06" fill="#FF9A00"/>
<rect x="364.12" y="571.58" width="7.15" height="11.06" fill="#FF9A00"/>
<rect x="370.67" y="571.58" width="7.15" height="11.06" fill="#FF0800"/>
<rect x="377.22" y="571.58" width="7.15" height="11.06" fill="#FFF800"/>
<rect x="383.77" y="571.58" width="7.15" height="11.06" fill="#FFBE00"/>
<rect x="390.32" y="571.58" width="7.15" height="11.06" fill="#FFBE00"/>
<rect x="396.87" y="571.58" width="7.15" height="11.06" fill="#FFBE00"/>
<rect x="403.43" y="571.58" width="7.15" height="11.06" fill="#FFBE00"/>
<rect x="409.98" y="571.58" width="7.15" height="11.06" fill="#FFFFD8"/>
<rect x="416.53" y="571.58" width="7.15" height="11.06" fill="#FFD900"/>
<rect x="423.08" y="571.58" width="7.15" height="11.06" fill="#FF9A00"/>
<rect x="429.63" y="571.58" width="7.15" height="11.06" fill="#FF9A00"/>
<rect x="436.18" y="571.58" width="7.15" height="11.06" fill="#FFF800"/>
<rect x="442.73" y="571.58" width="7.15" height="11.06" fill="#FF9A00"/>
<rect x="449.28" y="571.58" width="7.15" height="11.06" fill="#FF9A00"/>
<rect x="455.83" y="571.58" width="7.15" height="11.06" fill="#FF4000"/>
<rect x="462.38" y="571.58" width="7.15" height="11.06" fill="#FF4000"/>
<rect x="468.93" y="571.58" width="7.15" height="11.06" fill="#FFFF30"/>
<rect x="475.48" y="571.58" width="7.15" height="11.06" fill="#FF9A00"/>
<rect x="482.03" y="571.58" width="7.15" height="11.06" fill="#FF7800"/>
<rect x="488.58" y="571.58" width="7.15" height="11.06" fill="#FFF800"/>
<rect x="495.13" y="571.58" width="7.15" height="11.06" fill="#FFBE00"/>
<rect x="501.69" y="571.58" width="7.15" height="11.06" fill="#FF9A00"/>
<rect x="508.24" y="571.58" width="7.15" height="11.06" fill="#FFF800"/>
<rect x="514.79" y="571.58" width="7.15" height="11.06" fill="#FFFF88"/>
<rect x="521.34" y="571.58" width="7.15" height="11.06" fill="#FF9A00"/>
<rect x="527.89" y="571.58" width="7.15" height="11.06" fill="#FFFFD8"/>
<rect x="534.44" y="571.58" width="7.15" height="11.06" fill="#FFFF30"/>
<rect x="540.99" y="571.58" width="7.15" height="11.06" fill="#FFFFD8"/>
<rect x="547.54" y="571.58" width="7.15" height="11.06" fill="#FFF800"/>
<rect x="554.09" y="571.58" width="7.15" height="11.06" fill="#FFBE00"/>
<rect x="560.64" y="571.58" width="7.15" height="11.06" fill="#FFF800"/>
<rect x="567.19" y="571.58" width="7.15" height="11.06" fill="#FF7800"/>
<rect x="573.74" y="571.58" width="7.15" height="11.06" fill="#FFFF88"/>
<rect x="580.29" y="571.58" width="7.15" height="11.06" fill="#FFFF30"/>
<rect x="586.84" y="571.58" width="7.15" height="11.06" fill="#FF4000"/>
<rect x="593.39" y="571.58" width="7.15" height="11.06" fill="#FFD900"/>
<rect x="599.95" y="571.58" width="7.15" height="11.06" fill="#FF9A00"/>
<rect x="606.50" y="571.58" width="7.15" height="11.06" fill="#FFFFD8"/>
<rect x="613.05" y="571.58" width="7.15" height="11.06" fill="#FFFFD8"/>
<rect x="619.60" y="571.58" width="7.15" height="11.06" fill="#FFFF88"/>
<rect x="626.15" y="571.58" width="7.15" height="11.06" fill="#FFFFD8"/>
<rect x="632.70" y="571.58" width="7.15" height="11.06" fill="#FFFF88"/>
<rect x="639.25" y="571.58" width="6.55" height="11.06" fill="#FFFF88"/>
<rect x="154.50" y="582.03" width="7.15" height="11.06" fill="#FF0800"/>
<rect x="161.05" y="582.03" width="7.15" height="11.06" fill="#FF0800"/>
<rect x="167.60" y="582.03" width="7.15" height="11.06" fill="#FF0800"/>
<rect x="174.15" y="582.03" width="7.15" height="11.06" fill="#FF0800"/>
<rect x="180.70" y="582.03" width="7.15" height="11.06" fill="#FF0800"/>
<rect x="187.25" y="582.03" width="7.15" height="11.06" fill="#FF0800"/>
<rect x="193.80" y="582.03" width="7.15" height="11.06" fill="#FF4000"/>
<rect x="200.35" y="582.03" width="7.15" height="11.06" fill="#FF7800"/>
<rect x="206.91" y="582.03" width="7.15" height="11.06" fill="#FF0800"/>
<rect x="213.46" y="582.03" width="7.15" height="11.06" fill="#FF0800"/>
<rect x="220.01" y="582.03" width="7.15" height="11.06" fill="#FFBE00"/>
<rect x="226.56" y="582.03" width="7.15" height="11.06" fill="#FFBE00"/>
<rect x="233.11" y="582.03" width="7.15" height="11.06" fill="#FF4000"/>
<rect x="239.66" y="582.03" width="7.15" height="11.06" fill="#FF7800"/>
<rect x="246.21" y="582.03" width="7.15" height="11.06" fill="#FF0800"/>
<rect x="252.76" y="582.03" width="7.15" height="11.06" fill="#FF7800"/>
<rect x="259.31" y="582.03" width="7.15" height="11.06" fill="#FF9A00"/>
<rect x="265.86" y="582.03" width="7.15" height="11.06" fill="#FF4000"/>
<rect x="272.41" y="582.03" width="7.15" height="11.06" fill="#FFFF88"/>
<rect x="278.96" y="582.03" width="7.15" height="11.06" fill="#FFF800"/>
<rect x="285.51" y="582.03" width="7.15" height="11.06" fill="#FF4000"/>
<rect x="292.06" y="582.03" width="7.15" height="11.06" fill="#FFFFD8"/>
<rect x="298.61" y="582.03" width="7.15" height="11.06" fill="#FFFFD8"/>
<rect x="305.17" y="582.03" width="7.15" height="11.06" fill="#FFBE00"/>
<rect x="311.72" y="582.03" width="7.15" height="11.06" fill="#FFFFD8"/>
<rect x="318.27" y="582.03" width="7.15" height="11.06" fill="#FFFFD8"/>
<rect x="324.82" y="582.03" width="7.15" height="11.06" fill="#FFFFD8"/>
<rect x="331.37" y="582.03" width="7.15" height="11.06" fill="#FF0800"/>
<rect x="337.92" y="582.03" width="7.15" height="11.06" fill="#FF4000"/>
<rect x="344.47" y="582.03" width="7.15" height="11.06" fill="#FF0800"/>
<rect x="351.02" y="582.03" width="7.15" height="11.06" fill="#FF4000"/>
<rect x="357.57" y="582.03" width="7.15" height="11.06" fill="#FF4000"/>
<rect x="364.12" y="582.03" width="7.15" height="11.06" fill="#FF4000"/>
<rect x="370.67" y="582.03" width="7.15" height="11.06" fill="#FF4000"/>
<rect x="377.22" y="582.03" width="7.15" height="11.06" fill="#FF0800"/>
<rect x="383.77" y="582.03" width="7.15" height="11.06" fill="#FF0800"/>
<rect x="390.32" y="582.03" width="7.15" height="11.06" fill="#FFFF30"/>
<rect x="396.87" y="582.03" width="7.15" height="11.06" fill="#FFFF88"/>
<rect x="403.43" y="582.03" width="7.15" height="11.06" fill="#FF4000"/>
<rect x="409.98" y="582.03" width="7.15" height="11.06" fill="#FFD900"/>
<rect x="416.53" y="582.03" width="7.15" height="11.06" fill="#FFD900"/>
<rect x="423.08" y="582.03" width="7.15" height="11.06" fill="#FFF800"/>
<rect x="429.63" y="582.03" width="7.15" height="11.06" fill="#FF4000"/>
<rect x="436.18" y="582.03" width="7.15" height="11.06" fill="#FFBE00"/>
<rect x="442.73" y="582.03" width="7.15" height="11.06" fill="#FF4000"/>
<rect x="449.28" y="582.03" width="7.15" height="11.06" fill="#FF4000"/>
<rect x="455.83" y="582.03" width="7.15" height="11.06" fill="#FFFFD8"/>
<rect x="462.38" y="582.03" width="7.15" height="11.06" fill="#FFF800"/>
<rect x="468.93" y="582.03" width="7.15" height="11.06" fill="#FF0800"/>
<rect x="475.48" y="582.03" width="7.15" height="11.06" fill="#FF4000"/>
<rect x="482.03" y="582.03" width="7.15" height="11.06" fill="#FFBE00"/>
<rect x="488.58" y="582.03" width="7.15" height="11.06" fill="#FFBE00"/>
<rect x="495.13" y="582.03" width="7.15" height="11.06" fill="#FF7800"/>
<rect x="501.69" y="582.03" width="7.15" height="11.06" fill="#FFF800"/>
<rect x="508.24" y="582.03" width="7.15" height="11.06" fill="#FFFFD8"/>
<rect x="514.79" y="582.03" width="7.15" height="11.06" fill="#FFFFD8"/>
<rect x="521.34" y="582.03" width="7.15" height="11.06" fill="#FFFFD8"/>
<rect x="527.89" y="582.03" width="7.15" height="11.06" fill="#FFFFD8"/>
<rect x="534.44" y="582.03" width="7.15" height="11.06" fill="#FFFFD8"/>
<rect x="540.99" y="582.03" width="7.15" height="11.06" fill="#FFFFD8"/>
<rect x="547.54" y="582.03" width="7.15" height="11.06" fill="#FF4000"/>
<rect x="554.09" y="582.03" width="7.15" height="11.06" fill="#FFFFD8"/>
<rect x="560.64" y="582.03" width="7.15" height="11.06" fill="#FF4000"/>
<rect x="567.19" y="582.03" width="7.15" height="11.06" fill="#FFBE00"/>
<rect x="573.74" y="582.03" width="7.15" height="11.06" fill="#FFFF88"/>
<rect x="580.29" y="582.03" width="7.15" height="11.06" fill="#FFFF30"/>
<rect x="586.84" y="582.03" width="7.15" height="11.06" fill="#FFFFD8"/>
<rect x="593.39" y="582.03" width="7.15" height="11.06" fill="#FFFFD8"/>
<rect x="599.95" y="582.03" width="7.15" height="11.06" fill="#FFFFD8"/>
<rect x="606.50" y="582.03" width="7.15" height="11.06" fill="#FFFFD8"/>
<rect x="613.05" y="582.03" width="7.15" height="11.06" fill="#FFFFD8"/>
<rect x="619.60" y="582.03" width="7.15" height="11.06" fill="#FFFFD8"/>
<rect x="626.15" y="582.03" width="7.15" height="11.06" fill="#FFFFD8"/>
<rect x="632.70" y="582.03" width="7.15" height="11.06" fill="#FFFF88"/>
<rect x="639.25" y="582.03" width="6.55" height="11.06" fill="#FFFFD8"/>
<rect x="154.50" y="592.49" width="7.15" height="11.06" fill="#FF0800"/>
<rect x="161.05" y="592.49" width="7.15" height="11.06" fill="#FF0800"/>
<rect x="167.60" y="592.49" width="7.15" height="11.06" fill="#FF0800"/>
<rect x="174.15" y="592.49" width="7.15" height="11.06" fill="#FF0800"/>
<rect x="180.70" y="592.49" width="7.15" height="11.06" fill="#FF0800"/>
<rect x="187.25" y="592.49" width="7.15" height="11.06" fill="#FF4000"/>
<rect x="193.80" y="592.49" width="7.15" height="11.06" fill="#FF0800"/>
<rect x="200.35" y="592.49" width="7.15" height="11.06" fill="#FF4000"/>
<rect x="206.91" y="592.49" width="7.15" height="11.06" fill="#FF0800"/>
<rect x="213.46" y="592.49" width="7.15" height="11.06" fill="#FF7800"/>
<rect x="220.01" y="592.49" width="7.15" height="11.06" fill="#FF0800"/>
<rect x="226.56" y="592.49" width="7.15" height="11.06" fill="#FFD900"/>
<rect x="233.11" y="592.49" width="7.15" height="11.06" fill="#FFF800"/>
<rect x="239.66" y="592.49" width="7.15" height="11.06" fill="#FF4000"/>
<rect x="246.21" y="592.49" width="7.15" height="11.06" fill="#FFF800"/>
<rect x="252.76" y="592.49" width="7.15" height="11.06" fill="#FF7800"/>
<rect x="259.31" y="592.49" width="7.15" height="11.06" fill="#FF7800"/>
<rect x="265.86" y="592.49" width="7.15" height="11.06" fill="#FFFF30"/>
<rect x="272.41" y="592.49" width="7.15" height="11.06" fill="#FFFFD8"/>
<rect x="278.96" y="592.49" width="7.15" height="11.06" fill="#FF0800"/>
<rect x="285.51" y="592.49" width="7.15" height="11.06" fill="#FFBE00"/>
<rect x="292.06" y="592.49" width="7.15" height="11.06" fill="#FFBE00"/>
<rect x="298.61" y="592.49" width="7.15" height="11.06" fill="#FF0800"/>
<rect x="305.17" y="592.49" width="7.15" height="11.06" fill="#FFD900"/>
<rect x="311.72" y="592.49" width="7.15" height="11.06" fill="#FF7800"/>
<rect x="318.27" y="592.49" width="7.15" height="11.06" fill="#FFFF88"/>
<rect x="324.82" y="592.49" width="7.15" height="11.06" fill="#FFBE00"/>
<rect x="331.37" y="592.49" width="7.15" height="11.06" fill="#FF0800"/>
<rect x="337.92" y="592.49" width="7.15" height="11.06" fill="#FF0800"/>
<rect x="344.47" y="592.49" width="7.15" height="11.06" fill="#FF4000"/>
<rect x="351.02" y="592.49" width="7.15" height="11.06" fill="#FF0800"/>
<rect x="357.57" y="592.49" width="7.15" height="11.06" fill="#FF0800"/>
<rect x="364.12" y="592.49" width="7.15" height="11.06" fill="#FF0800"/>
<rect x="370.67" y="592.49" width="7.15" height="11.06" fill="#FFBE00"/>
<rect x="377.22" y="592.49" width="7.15" height="11.06" fill="#FF0800"/>
<rect x="383.77" y="592.49" width="7.15" height="11.06" fill="#FF7800"/>
<rect x="390.32" y="592.49" width="7.15" height="11.06" fill="#FF0800"/>
<rect x="396.87" y="592.49" width="7.15" height="11.06" fill="#FF0800"/>
<rect x="403.43" y="592.49" width="7.15" height="11.06" fill="#FF0800"/>
<rect x="409.98" y="592.49" width="7.15" height="11.06" fill="#FF0800"/>
<rect x="416.53" y="592.49" width="7.15" height="11.06" fill="#FF4000"/>
<rect x="423.08" y="592.49" width="7.15" height="11.06" fill="#FF0800"/>
<rect x="429.63" y="592.49" width="7.15" height="11.06" fill="#FFF800"/>
<rect x="436.18" y="592.49" width="7.15" height="11.06" fill="#FF4000"/>
<rect x="442.73" y="592.49" width="7.15" height="11.06" fill="#FF9A00"/>
<rect x="449.28" y="592.49" width="7.15" height="11.06" fill="#FF9A00"/>
<rect x="455.83" y="592.49" width="7.15" height="11.06" fill="#FFF800"/>
<rect x="462.38" y="592.49" width="7.15" height="11.06" fill="#FFF800"/>
<rect x="468.93" y="592.49" width="7.15" height="11.06" fill="#FFBE00"/>
<rect x="475.48" y="592.49" width="7.15" height="11.06" fill="#FFD900"/>
<rect x="482.03" y="592.49" width="7.15" height="11.06" fill="#FFFF30"/>
<rect x="488.58" y="592.49" width="7.15" height="11.06" fill="#FF0800"/>
<rect x="495.13" y="592.49" width="7.15" height="11.06" fill="#FFD900"/>
<rect x="501.69" y="592.49" width="7.15" height="11.06" fill="#FF0800"/>
<rect x="508.24" y="592.49" width="7.15" height="11.06" fill="#FFFFD8"/>
<rect x="514.79" y="592.49" width="7.15" height="11.06" fill="#FF9A00"/>
<rect x="521.34" y="592.49" width="7.15" height="11.06" fill="#FFFFD8"/>
<rect x="527.89" y="592.49" width="7.15" height="11.06" fill="#FFF800"/>
<rect x="534.44" y="592.49" width="7.15" height="11.06" fill="#FFFFD8"/>
<rect x="540.99" y="592.49" width="7.15" height="11.06" fill="#FFFFD8"/>
<rect x="547.54" y="592.49" width="7.15" height="11.06" fill="#FFFFD8"/>
<rect x="554.09" y="592.49" width="7.15" height="11.06" fill="#FFD900"/>
<rect x="560.64" y="592.49" width="7.15" height="11.06" fill="#FFFF88"/>
<rect x="567.19" y="592.49" width="7.15" height="11.06" fill="#FFFFD8"/>
<rect x="573.74" y="592.49" width="7.15" height="11.06" fill="#FFF800"/>
<rect x="580.29" y="592.49" width="7.15" height="11.06" fill="#FFD900"/>
<rect x="586.84" y="592.49" width="7.15" height="11.06" fill="#FFFF88"/>
<rect x="593.39" y="592.49" width="7.15" height="11.06" fill="#FFFF88"/>
<rect x="599.95" y="592.49" width="7.15" height="11.06" fill="#FFF800"/>
<rect x="606.50" y="592.49" width="7.15" height="11.06" fill="#FFFF88"/>
<rect x="613.05" y="592.49" width="7.15" height="11.06" fill="#FFF800"/>
<rect x="619.60" y="592.49" width="7.15" height="11.06" fill="#FFFFD8"/>
<rect x="626.15" y="592.49" width="7.15" height="11.06" fill="#FFFFD8"/>
<rect x="632.70" y="592.49" width="7.15" height="11.06" fill="#FFFF88"/>
<rect x="639.25" y="592.49" width="6.55" height="11.06" fill="#FFFFD8"/>
<rect x="154.50" y="602.94" width="7.15" height="10.46" fill="#FF0800"/>
<rect x="161.05" y="602.94" width="7.15" height="10.46" fill="#FF0800"/>
<rect x="167.60" y="602.94" width="7.15" height="10.46" fill="#FF4000"/>
<rect x="174.15" y="602.94" width="7.15" height="10.46" fill="#FF4000"/>
<rect x="180.70" y="602.94" width="7.15" height="10.46" fill="#FF4000"/>
<rect x="187.25" y="602.94" width="7.15" height="10.46" fill="#FF0800"/>
<rect x="193.80" y="602.94" width="7.15" height="10.46" fill="#FF0800"/>
<rect x="200.35" y="602.94" width="7.15" height="10.46" fill="#FF0800"/>
<rect x="206.91" y="602.94" width="7.15" height="10.46" fill="#FFF800"/>
<rect x="213.46" y="602.94" width="7.15" height="10.46" fill="#FFFFD8"/>
<rect x="220.01" y="602.94" width="7.15" height="10.46" fill="#FF4000"/>
<rect x="226.56" y="602.94" width="7.15" height="10.46" fill="#FF7800"/>
<rect x="233.11" y="602.94" width="7.15" height="10.46" fill="#FF4000"/>
<rect x="239.66" y="602.94" width="7.15" height="10.46" fill="#FF9A00"/>
<rect x="246.21" y="602.94" width="7.15" height="10.46" fill="#FF4000"/>
<rect x="252.76" y="602.94" width="7.15" height="10.46" fill="#FF0800"/>
<rect x="259.31" y="602.94" width="7.15" height="10.46" fill="#FF4000"/>
<rect x="265.86" y="602.94" width="7.15" height="10.46" fill="#FF4000"/>
<rect x="272.41" y="602.94" width="7.15" height="10.46" fill="#FF0800"/>
<rect x="278.96" y="602.94" width="7.15" height="10.46" fill="#FF4000"/>
<rect x="285.51" y="602.94" width="7.15" height="10.46" fill="#FFFFD8"/>
<rect x="292.06" y="602.94" width="7.15" height="10.46" fill="#FF4000"/>
<rect x="298.61" y="602.94" width="7.15" height="10.46" fill="#FF0800"/>
<rect x="305.17" y="602.94" width="7.15" height="10.46" fill="#FFD900"/>
<rect x="311.72" y="602.94" width="7.15" height="10.46" fill="#FFFF88"/>
<rect x="318.27" y="602.94" width="7.15" height="10.46" fill="#FFBE00"/>
<rect x="324.82" y="602.94" width="7.15" height="10.46" fill="#FF4000"/>
<rect x="331.37" y="602.94" width="7.15" height="10.46" fill="#FF4000"/>
<rect x="337.92" y="602.94" width="7.15" height="10.46" fill="#FF0800"/>
<rect x="344.47" y="602.94" width="7.15" height="10.46" fill="#FF0800"/>
<rect x="351.02" y="602.94" width="7.15" height="10.46" fill="#FF4000"/>
<rect x="357.57" y="602.94" width="7.15" height="10.46" fill="#FF4000"/>
<rect x="364.12" y="602.94" width="7.15" height="10.46" fill="#FFD900"/>
<rect x="370.67" y="602.94" width="7.15" height="10.46" fill="#FF4000"/>
<rect x="377.22" y="602.94" width="7.15" height="10.46" fill="#FF4000"/>
<rect x="383.77" y="602.94" width="7.15" height="10.46" fill="#FF7800"/>
<rect x="390.32" y="602.94" width="7.15" height="10.46" fill="#FF0800"/>
<rect x="396.87" y="602.94" width="7.15" height="10.46" fill="#FF0800"/>
<rect x="403.43" y="602.94" width="7.15" height="10.46" fill="#FFFF30"/>
<rect x="409.98" y="602.94" width="7.15" height="10.46" fill="#FF4000"/>
<rect x="416.53" y="602.94" width="7.15" height="10.46" fill="#FF0800"/>
<rect x="423.08" y="602.94" width="7.15" height="10.46" fill="#FF4000"/>
<rect x="429.63" y="602.94" width="7.15" height="10.46" fill="#FF4000"/>
<rect x="436.18" y="602.94" width="7.15" height="10.46" fill="#FF7800"/>
<rect x="442.73" y="602.94" width="7.15" height="10.46" fill="#FF9A00"/>
<rect x="449.28" y="602.94" width="7.15" height="10.46" fill="#FF9A00"/>
<rect x="455.83" y="602.94" width="7.15" height="10.46" fill="#FF0800"/>
<rect x="462.38" y="602.94" width="7.15" height="10.46" fill="#FF0800"/>
<rect x="468.93" y="602.94" width="7.15" height="10.46" fill="#FFF800"/>
<rect x="475.48" y="602.94" width="7.15" height="10.46" fill="#FFBE00"/>
<rect x="482.03" y="602.94" width="7.15" height="10.46" fill="#FFD900"/>
<rect x="488.58" y="602.94" width="7.15" height="10.46" fill="#FFF800"/>
<rect x="495.13" y="602.94" width="7.15" height="10.46" fill="#FF4000"/>
<rect x="501.69" y="602.94" width="7.15" height="10.46" fill="#FFBE00"/>
<rect x="508.24" y="602.94" width="7.15" height="10.46" fill="#FFFFD8"/>
<rect x="514.79" y="602.94" width="7.15" height="10.46" fill="#FFFF88"/>
<rect x="521.34" y="602.94" width="7.15" height="10.46" fill="#FFFF30"/>
<rect x="527.89" y="602.94" width="7.15" height="10.46" fill="#FFFFD8"/>
<rect x="534.44" y="602.94" width="7.15" height="10.46" fill="#FFFFD8"/>
<rect x="540.99" y="602.94" width="7.15" height="10.46" fill="#FFFFD8"/>
<rect x="547.54" y="602.94" width="7.15" height="10.46" fill="#FFFF88"/>
<rect x="554.09" y="602.94" width="7.15" height="10.46" fill="#FFBE00"/>
<rect x="560.64" y="602.94" width="7.15" height="10.46" fill="#FFFFD8"/>
<rect x="567.19" y="602.94" width="7.15" height="10.46" fill="#FFFFD8"/>
<rect x="573.74" y="602.94" width="7.15" height="10.46" fill="#FFBE00"/>
<rect x="580.29" y="602.94" width="7.15" height="10.46" fill="#FFFFD8"/>
<rect x="586.84" y="602.94" width="7.15" height="10.46" fill="#FFFF30"/>
<rect x="593.39" y="602.94" width="7.15" height="10.46" fill="#FFBE00"/>
<rect x="599.95" y="602.94" width="7.15" height="10.46" fill="#FFFFD8"/>
<rect x="606.50" y="602.94" width="7.15" height="10.46" fill="#FFF800"/>
<rect x="613.05" y="602.94" width="7.15" height="10.46" fill="#FFFF88"/>
<rect x="619.60" y="602.94" width="7.15" height="10.46" fill="#FFFF88"/>
<rect x="626.15" y="602.94" width="7.15" height="10.46" fill="#FFFFD8"/>
<rect x="632.70" y="602.94" width="7.15" height="10.46" fill="#FFFF88"/>
<rect x="639.25" y="602.94" width="6.55" height="10.46" fill="#FFFF88"/>
<rect x="135.1" y="446.10" width="16.4" height="11.06" fill="#FFB511"/>
<rect x="135.1" y="456.56" width="16.4" height="11.06" fill="#FFB511"/>
<rect x="135.1" y="467.01" width="16.4" height="11.06" fill="#FFB511"/>
<rect x="135.1" y="477.47" width="16.4" height="11.06" fill="#FFB511"/>
<rect x="135.1" y="487.93" width="16.4" height="11.06" fill="#BEBEBE"/>
<rect x="135.1" y="498.38" width="16.4" height="11.06" fill="#BEBEBE"/>
<rect x="135.1" y="508.84" width="16.4" height="11.06" fill="#BEBEBE"/>
<rect x="135.1" y="519.29" width="16.4" height="11.06" fill="#A020F0"/>
<rect x="135.1" y="529.75" width="16.4" height="11.06" fill="#A020F0"/>
<rect x="135.1" y="540.21" width="16.4" height="11.06" fill="#BEBEBE"/>
<rect x="135.1" y="550.66" width="16.4" height="11.06" fill="#A020F0"/>
<rect x="135.1" y="561.12" width="16.4" height="11.06" fill="#A020F0"/>
<rect x="135.1" y="571.58" width="16.4" height="11.06" fill="#B22222"/>
<rect x="135.1" y="582.03" width="16.4" height="11.06" fill="#B22222"/>
<rect x="135.1" y="592.49" width="16.4" height="11.06" fill="#B22222"/>
<rect x="135.1" y="602.94" width="16.4" height="10.46" fill="#B22222"/>
<text transform="translate(648.9 454.33) scale(0.93 1)" style="font-family:'Liberation Sans',sans-serif;font-size:7.2px" fill="#262626" stroke="#262626" stroke-width="0.12">TWS2.T4</text>
<text transform="translate(648.9 464.78) scale(0.93 1)" style="font-family:'Liberation Sans',sans-serif;font-size:7.2px" fill="#262626" stroke="#262626" stroke-width="0.12">RWS1.T4</text>
<text transform="translate(648.9 475.24) scale(0.93 1)" style="font-family:'Liberation Sans',sans-serif;font-size:7.2px" fill="#262626" stroke="#262626" stroke-width="0.12">RWS2.T4</text>
<text transform="translate(648.9 485.70) scale(0.93 1)" style="font-family:'Liberation Sans',sans-serif;font-size:7.2px" fill="#262626" stroke="#262626" stroke-width="0.12">TWS1.T4</text>
<text transform="translate(648.9 496.15) scale(0.93 1)" style="font-family:'Liberation Sans',sans-serif;font-size:7.2px" fill="#262626" stroke="#262626" stroke-width="0.12">RWS2.T3</text>
<text transform="translate(648.9 506.61) scale(0.93 1)" style="font-family:'Liberation Sans',sans-serif;font-size:7.2px" fill="#262626" stroke="#262626" stroke-width="0.12">TWS2.T3</text>
<text transform="translate(648.9 517.07) scale(0.93 1)" style="font-family:'Liberation Sans',sans-serif;font-size:7.2px" fill="#262626" stroke="#262626" stroke-width="0.12">RWS1.T3</text>
<text transform="translate(648.9 527.52) scale(0.93 1)" style="font-family:'Liberation Sans',sans-serif;font-size:7.2px" fill="#262626" stroke="#262626" stroke-width="0.12">TWS1.T2</text>
<text transform="translate(648.9 537.98) scale(0.93 1)" style="font-family:'Liberation Sans',sans-serif;font-size:7.2px" fill="#262626" stroke="#262626" stroke-width="0.12">RWS2.T2</text>
<text transform="translate(648.9 548.43) scale(0.93 1)" style="font-family:'Liberation Sans',sans-serif;font-size:7.2px" fill="#262626" stroke="#262626" stroke-width="0.12">TWS1.T3</text>
<text transform="translate(648.9 558.89) scale(0.93 1)" style="font-family:'Liberation Sans',sans-serif;font-size:7.2px" fill="#262626" stroke="#262626" stroke-width="0.12">TWS2.T2</text>
<text transform="translate(648.9 569.35) scale(0.93 1)" style="font-family:'Liberation Sans',sans-serif;font-size:7.2px" fill="#262626" stroke="#262626" stroke-width="0.12">RWS1.T2</text>
<text transform="translate(648.9 579.80) scale(0.93 1)" style="font-family:'Liberation Sans',sans-serif;font-size:7.2px" fill="#262626" stroke="#262626" stroke-width="0.12">TWS1.T1</text>
<text transform="translate(648.9 590.26) scale(0.93 1)" style="font-family:'Liberation Sans',sans-serif;font-size:7.2px" fill="#262626" stroke="#262626" stroke-width="0.12">TWS2.T1</text>
<text transform="translate(648.9 600.72) scale(0.93 1)" style="font-family:'Liberation Sans',sans-serif;font-size:7.2px" fill="#262626" stroke="#262626" stroke-width="0.12">RWS1.T1</text>
<text transform="translate(648.9 611.17) scale(0.93 1)" style="font-family:'Liberation Sans',sans-serif;font-size:7.2px" fill="#262626" stroke="#262626" stroke-width="0.12">RWS2.T1</text>
<text transform="translate(160.78 616.8) rotate(-90) scale(0.92 1)" text-anchor="end" style="font-family:'Liberation Sans',sans-serif;font-size:5.9px" fill="#262626" stroke="#262626" stroke-width="0.07">GH4-S</text>
<text transform="translate(167.33 616.8) rotate(-90) scale(0.92 1)" text-anchor="end" style="font-family:'Liberation Sans',sans-serif;font-size:5.9px" fill="#262626" stroke="#262626" stroke-width="0.07">GH1-O-C</text>
<text transform="translate(173.88 616.8) rotate(-90) scale(0.92 1)" text-anchor="end" style="font-family:'Liberation Sans',sans-serif;font-size:5.9px" fill="#262626" stroke="#262626" stroke-width="0.07">CBM25-BM-S</text>
<text transform="translate(180.43 616.8) rotate(-90) scale(0.92 1)" text-anchor="end" style="font-family:'Liberation Sans',sans-serif;font-size:5.9px" fill="#262626" stroke="#262626" stroke-width="0.07">GH13-S</text>
<text transform="translate(186.98 616.8) rotate(-90) scale(0.92 1)" text-anchor="end" style="font-family:'Liberation Sans',sans-serif;font-size:5.9px" fill="#262626" stroke="#262626" stroke-width="0.07">CE8</text>
<text transform="translate(193.53 616.8) rotate(-90) scale(0.92 1)" text-anchor="end" style="font-family:'Liberation Sans',sans-serif;font-size:5.9px" fill="#262626" stroke="#262626" stroke-width="0.07">CBM20-BM-S</text>
<text transform="translate(200.08 616.8) rotate(-90) scale(0.92 1)" text-anchor="end" style="font-family:'Liberation Sans',sans-serif;font-size:5.9px" fill="#262626" stroke="#262626" stroke-width="0.07">CBM26-BM-S</text>
<text transform="translate(206.63 616.8) rotate(-90) scale(0.92 1)" text-anchor="end" style="font-family:'Liberation Sans',sans-serif;font-size:5.9px" fill="#262626" stroke="#262626" stroke-width="0.07">GH31-S</text>
<text transform="translate(213.18 616.8) rotate(-90) scale(0.92 1)" text-anchor="end" style="font-family:'Liberation Sans',sans-serif;font-size:5.9px" fill="#262626" stroke="#262626" stroke-width="0.07">GH43-O-H</text>
<text transform="translate(219.73 616.8) rotate(-90) scale(0.92 1)" text-anchor="end" style="font-family:'Liberation Sans',sans-serif;font-size:5.9px" fill="#262626" stroke="#262626" stroke-width="0.07">GH146-O-H</text>
<text transform="translate(226.28 616.8) rotate(-90) scale(0.92 1)" text-anchor="end" style="font-family:'Liberation Sans',sans-serif;font-size:5.9px" fill="#262626" stroke="#262626" stroke-width="0.07">GT19</text>
<text transform="translate(232.83 616.8) rotate(-90) scale(0.92 1)" text-anchor="end" style="font-family:'Liberation Sans',sans-serif;font-size:5.9px" fill="#262626" stroke="#262626" stroke-width="0.07">CBM2-BM-C</text>
<text transform="translate(239.38 616.8) rotate(-90) scale(0.92 1)" text-anchor="end" style="font-family:'Liberation Sans',sans-serif;font-size:5.9px" fill="#262626" stroke="#262626" stroke-width="0.07">CBM6-BM-C</text>
<text transform="translate(245.93 616.8) rotate(-90) scale(0.92 1)" text-anchor="end" style="font-family:'Liberation Sans',sans-serif;font-size:5.9px" fill="#262626" stroke="#262626" stroke-width="0.07">GT2</text>
<text transform="translate(252.48 616.8) rotate(-90) scale(0.92 1)" text-anchor="end" style="font-family:'Liberation Sans',sans-serif;font-size:5.9px" fill="#262626" stroke="#262626" stroke-width="0.07">GH28-Pe</text>
<text transform="translate(259.04 616.8) rotate(-90) scale(0.92 1)" text-anchor="end" style="font-family:'Liberation Sans',sans-serif;font-size:5.9px" fill="#262626" stroke="#262626" stroke-width="0.07">GH8-E-H</text>
<text transform="translate(265.59 616.8) rotate(-90) scale(0.92 1)" text-anchor="end" style="font-family:'Liberation Sans',sans-serif;font-size:5.9px" fill="#262626" stroke="#262626" stroke-width="0.07">PL10</text>
<text transform="translate(272.14 616.8) rotate(-90) scale(0.92 1)" text-anchor="end" style="font-family:'Liberation Sans',sans-serif;font-size:5.9px" fill="#262626" stroke="#262626" stroke-width="0.07">CBM50</text>
<text transform="translate(278.69 616.8) rotate(-90) scale(0.92 1)" text-anchor="end" style="font-family:'Liberation Sans',sans-serif;font-size:5.9px" fill="#262626" stroke="#262626" stroke-width="0.07">GT35</text>
<text transform="translate(285.24 616.8) rotate(-90) scale(0.92 1)" text-anchor="end" style="font-family:'Liberation Sans',sans-serif;font-size:5.9px" fill="#262626" stroke="#262626" stroke-width="0.07">PL11</text>
<text transform="translate(291.79 616.8) rotate(-90) scale(0.92 1)" text-anchor="end" style="font-family:'Liberation Sans',sans-serif;font-size:5.9px" fill="#262626" stroke="#262626" stroke-width="0.07">GH133-S</text>
<text transform="translate(298.34 616.8) rotate(-90) scale(0.92 1)" text-anchor="end" style="font-family:'Liberation Sans',sans-serif;font-size:5.9px" fill="#262626" stroke="#262626" stroke-width="0.07">GH120-O-H</text>
<text transform="translate(304.89 616.8) rotate(-90) scale(0.92 1)" text-anchor="end" style="font-family:'Liberation Sans',sans-serif;font-size:5.9px" fill="#262626" stroke="#262626" stroke-width="0.07">SLH</text>
<text transform="translate(311.44 616.8) rotate(-90) scale(0.92 1)" text-anchor="end" style="font-family:'Liberation Sans',sans-serif;font-size:5.9px" fill="#262626" stroke="#262626" stroke-width="0.07">CBM37</text>
<text transform="translate(317.99 616.8) rotate(-90) scale(0.92 1)" text-anchor="end" style="font-family:'Liberation Sans',sans-serif;font-size:5.9px" fill="#262626" stroke="#262626" stroke-width="0.07">GH94-P-C</text>
<text transform="translate(324.54 616.8) rotate(-90) scale(0.92 1)" text-anchor="end" style="font-family:'Liberation Sans',sans-serif;font-size:5.9px" fill="#262626" stroke="#262626" stroke-width="0.07">GH57-S</text>
<text transform="translate(331.09 616.8) rotate(-90) scale(0.92 1)" text-anchor="end" style="font-family:'Liberation Sans',sans-serif;font-size:5.9px" fill="#262626" stroke="#262626" stroke-width="0.07">GH42-O-H</text>
<text transform="translate(337.64 616.8) rotate(-90) scale(0.92 1)" text-anchor="end" style="font-family:'Liberation Sans',sans-serif;font-size:5.9px" fill="#262626" stroke="#262626" stroke-width="0.07">GH29-O-H</text>
<text transform="translate(344.19 616.8) rotate(-90) scale(0.92 1)" text-anchor="end" style="font-family:'Liberation Sans',sans-serif;font-size:5.9px" fill="#262626" stroke="#262626" stroke-width="0.07">CBM5</text>
<text transform="translate(350.74 616.8) rotate(-90) scale(0.92 1)" text-anchor="end" style="font-family:'Liberation Sans',sans-serif;font-size:5.9px" fill="#262626" stroke="#262626" stroke-width="0.07">GH2-O-H</text>
<text transform="translate(357.30 616.8) rotate(-90) scale(0.92 1)" text-anchor="end" style="font-family:'Liberation Sans',sans-serif;font-size:5.9px" fill="#262626" stroke="#262626" stroke-width="0.07">PL9</text>
<text transform="translate(363.85 616.8) rotate(-90) scale(0.92 1)" text-anchor="end" style="font-family:'Liberation Sans',sans-serif;font-size:5.9px" fill="#262626" stroke="#262626" stroke-width="0.07">GT3</text>
<text transform="translate(370.40 616.8) rotate(-90) scale(0.92 1)" text-anchor="end" style="font-family:'Liberation Sans',sans-serif;font-size:5.9px" fill="#262626" stroke="#262626" stroke-width="0.07">CE15</text>
<text transform="translate(376.95 616.8) rotate(-90) scale(0.92 1)" text-anchor="end" style="font-family:'Liberation Sans',sans-serif;font-size:5.9px" fill="#262626" stroke="#262626" stroke-width="0.07">GT51</text>
<text transform="translate(383.50 616.8) rotate(-90) scale(0.92 1)" text-anchor="end" style="font-family:'Liberation Sans',sans-serif;font-size:5.9px" fill="#262626" stroke="#262626" stroke-width="0.07">GH95-O-H</text>
<text transform="translate(390.05 616.8) rotate(-90) scale(0.92 1)" text-anchor="end" style="font-family:'Liberation Sans',sans-serif;font-size:5.9px" fill="#262626" stroke="#262626" stroke-width="0.07">GH77-S</text>
<text transform="translate(396.60 616.8) rotate(-90) scale(0.92 1)" text-anchor="end" style="font-family:'Liberation Sans',sans-serif;font-size:5.9px" fill="#262626" stroke="#262626" stroke-width="0.07">GH97-S</text>
<text transform="translate(403.15 616.8) rotate(-90) scale(0.92 1)" text-anchor="end" style="font-family:'Liberation Sans',sans-serif;font-size:5.9px" fill="#262626" stroke="#262626" stroke-width="0.07">GH3-O-C</text>
<text transform="translate(409.70 616.8) rotate(-90) scale(0.92 1)" text-anchor="end" style="font-family:'Liberation Sans',sans-serif;font-size:5.9px" fill="#262626" stroke="#262626" stroke-width="0.07">GH65-P-S</text>
<text transform="translate(416.25 616.8) rotate(-90) scale(0.92 1)" text-anchor="end" style="font-family:'Liberation Sans',sans-serif;font-size:5.9px" fill="#262626" stroke="#262626" stroke-width="0.07">CE3</text>
<text transform="translate(422.80 616.8) rotate(-90) scale(0.92 1)" text-anchor="end" style="font-family:'Liberation Sans',sans-serif;font-size:5.9px" fill="#262626" stroke="#262626" stroke-width="0.07">GH92-O-H</text>
<text transform="translate(429.35 616.8) rotate(-90) scale(0.92 1)" text-anchor="end" style="font-family:'Liberation Sans',sans-serif;font-size:5.9px" fill="#262626" stroke="#262626" stroke-width="0.07">GH35-O-H</text>
<text transform="translate(435.90 616.8) rotate(-90) scale(0.92 1)" text-anchor="end" style="font-family:'Liberation Sans',sans-serif;font-size:5.9px" fill="#262626" stroke="#262626" stroke-width="0.07">GT30</text>
<text transform="translate(442.45 616.8) rotate(-90) scale(0.92 1)" text-anchor="end" style="font-family:'Liberation Sans',sans-serif;font-size:5.9px" fill="#262626" stroke="#262626" stroke-width="0.07">GH51-O-H</text>
<text transform="translate(449.00 616.8) rotate(-90) scale(0.92 1)" text-anchor="end" style="font-family:'Liberation Sans',sans-serif;font-size:5.9px" fill="#262626" stroke="#262626" stroke-width="0.07">CBM30-BM-C</text>
<text transform="translate(455.56 616.8) rotate(-90) scale(0.92 1)" text-anchor="end" style="font-family:'Liberation Sans',sans-serif;font-size:5.9px" fill="#262626" stroke="#262626" stroke-width="0.07">CBM11</text>
<text transform="translate(462.11 616.8) rotate(-90) scale(0.92 1)" text-anchor="end" style="font-family:'Liberation Sans',sans-serif;font-size:5.9px" fill="#262626" stroke="#262626" stroke-width="0.07">GH26-E-H</text>
<text transform="translate(468.66 616.8) rotate(-90) scale(0.92 1)" text-anchor="end" style="font-family:'Liberation Sans',sans-serif;font-size:5.9px" fill="#262626" stroke="#262626" stroke-width="0.07">CE6</text>
<text transform="translate(475.21 616.8) rotate(-90) scale(0.92 1)" text-anchor="end" style="font-family:'Liberation Sans',sans-serif;font-size:5.9px" fill="#262626" stroke="#262626" stroke-width="0.07">GT20</text>
<text transform="translate(481.76 616.8) rotate(-90) scale(0.92 1)" text-anchor="end" style="font-family:'Liberation Sans',sans-serif;font-size:5.9px" fill="#262626" stroke="#262626" stroke-width="0.07">GH125-O-H</text>
<text transform="translate(488.31 616.8) rotate(-90) scale(0.92 1)" text-anchor="end" style="font-family:'Liberation Sans',sans-serif;font-size:5.9px" fill="#262626" stroke="#262626" stroke-width="0.07">GH10-E-H</text>
<text transform="translate(494.86 616.8) rotate(-90) scale(0.92 1)" text-anchor="end" style="font-family:'Liberation Sans',sans-serif;font-size:5.9px" fill="#262626" stroke="#262626" stroke-width="0.07">CBM48</text>
<text transform="translate(501.41 616.8) rotate(-90) scale(0.92 1)" text-anchor="end" style="font-family:'Liberation Sans',sans-serif;font-size:5.9px" fill="#262626" stroke="#262626" stroke-width="0.07">GT28</text>
<text transform="translate(507.96 616.8) rotate(-90) scale(0.92 1)" text-anchor="end" style="font-family:'Liberation Sans',sans-serif;font-size:5.9px" fill="#262626" stroke="#262626" stroke-width="0.07">GH36-O-H</text>
<text transform="translate(514.51 616.8) rotate(-90) scale(0.92 1)" text-anchor="end" style="font-family:'Liberation Sans',sans-serif;font-size:5.9px" fill="#262626" stroke="#262626" stroke-width="0.07">GH11-E-H</text>
<text transform="translate(521.06 616.8) rotate(-90) scale(0.92 1)" text-anchor="end" style="font-family:'Liberation Sans',sans-serif;font-size:5.9px" fill="#262626" stroke="#262626" stroke-width="0.07">GH48-C</text>
<text transform="translate(527.61 616.8) rotate(-90) scale(0.92 1)" text-anchor="end" style="font-family:'Liberation Sans',sans-serif;font-size:5.9px" fill="#262626" stroke="#262626" stroke-width="0.07">DOC</text>
<text transform="translate(534.16 616.8) rotate(-90) scale(0.92 1)" text-anchor="end" style="font-family:'Liberation Sans',sans-serif;font-size:5.9px" fill="#262626" stroke="#262626" stroke-width="0.07">GH27-O-H</text>
<text transform="translate(540.71 616.8) rotate(-90) scale(0.92 1)" text-anchor="end" style="font-family:'Liberation Sans',sans-serif;font-size:5.9px" fill="#262626" stroke="#262626" stroke-width="0.07">CBM36-BM-H</text>
<text transform="translate(547.26 616.8) rotate(-90) scale(0.92 1)" text-anchor="end" style="font-family:'Liberation Sans',sans-serif;font-size:5.9px" fill="#262626" stroke="#262626" stroke-width="0.07">GH5-C</text>
<text transform="translate(553.82 616.8) rotate(-90) scale(0.92 1)" text-anchor="end" style="font-family:'Liberation Sans',sans-serif;font-size:5.9px" fill="#262626" stroke="#262626" stroke-width="0.07">GH115-O-H</text>
<text transform="translate(560.37 616.8) rotate(-90) scale(0.92 1)" text-anchor="end" style="font-family:'Liberation Sans',sans-serif;font-size:5.9px" fill="#262626" stroke="#262626" stroke-width="0.07">GT4</text>
<text transform="translate(566.92 616.8) rotate(-90) scale(0.92 1)" text-anchor="end" style="font-family:'Liberation Sans',sans-serif;font-size:5.9px" fill="#262626" stroke="#262626" stroke-width="0.07">GH67-O-H</text>
<text transform="translate(573.47 616.8) rotate(-90) scale(0.92 1)" text-anchor="end" style="font-family:'Liberation Sans',sans-serif;font-size:5.9px" fill="#262626" stroke="#262626" stroke-width="0.07">CBM4-BM-H</text>
<text transform="translate(580.02 616.8) rotate(-90) scale(0.92 1)" text-anchor="end" style="font-family:'Liberation Sans',sans-serif;font-size:5.9px" fill="#262626" stroke="#262626" stroke-width="0.07">GT5</text>
<text transform="translate(586.57 616.8) rotate(-90) scale(0.92 1)" text-anchor="end" style="font-family:'Liberation Sans',sans-serif;font-size:5.9px" fill="#262626" stroke="#262626" stroke-width="0.07">CBM22-BM-H</text>
<text transform="translate(593.12 616.8) rotate(-90) scale(0.92 1)" text-anchor="end" style="font-family:'Liberation Sans',sans-serif;font-size:5.9px" fill="#262626" stroke="#262626" stroke-width="0.07">GH30-O-H</text>
<text transform="translate(599.67 616.8) rotate(-90) scale(0.92 1)" text-anchor="end" style="font-family:'Liberation Sans',sans-serif;font-size:5.9px" fill="#262626" stroke="#262626" stroke-width="0.07">CE11</text>
<text transform="translate(606.22 616.8) rotate(-90) scale(0.92 1)" text-anchor="end" style="font-family:'Liberation Sans',sans-serif;font-size:5.9px" fill="#262626" stroke="#262626" stroke-width="0.07">CBM3-BM-C</text>
<text transform="translate(612.77 616.8) rotate(-90) scale(0.92 1)" text-anchor="end" style="font-family:'Liberation Sans',sans-serif;font-size:5.9px" fill="#262626" stroke="#262626" stroke-width="0.07">CE1</text>
<text transform="translate(619.32 616.8) rotate(-90) scale(0.92 1)" text-anchor="end" style="font-family:'Liberation Sans',sans-serif;font-size:5.9px" fill="#262626" stroke="#262626" stroke-width="0.07">GH130-P-H</text>
<text transform="translate(625.87 616.8) rotate(-90) scale(0.92 1)" text-anchor="end" style="font-family:'Liberation Sans',sans-serif;font-size:5.9px" fill="#262626" stroke="#262626" stroke-width="0.07">GH105-O-Pe</text>
<text transform="translate(632.42 616.8) rotate(-90) scale(0.92 1)" text-anchor="end" style="font-family:'Liberation Sans',sans-serif;font-size:5.9px" fill="#262626" stroke="#262626" stroke-width="0.07">CE7</text>
<text transform="translate(638.97 616.8) rotate(-90) scale(0.92 1)" text-anchor="end" style="font-family:'Liberation Sans',sans-serif;font-size:5.9px" fill="#262626" stroke="#262626" stroke-width="0.07">GH9-C</text>
<text transform="translate(645.52 616.8) rotate(-90) scale(0.92 1)" text-anchor="end" style="font-family:'Liberation Sans',sans-serif;font-size:5.9px" fill="#262626" stroke="#262626" stroke-width="0.07">CBM13-BM-H</text>
<line x1="127.1" y1="451.33" x2="129.9" y2="451.33" stroke="#555" stroke-width="0.8"/>
<line x1="127.1" y1="461.78" x2="129.9" y2="461.78" stroke="#555" stroke-width="0.8"/>
<line x1="127.1" y1="451.33" x2="127.1" y2="461.78" stroke="#555" stroke-width="0.8"/>
<line x1="125.5" y1="456.55499999999995" x2="127.1" y2="456.55499999999995" stroke="#555" stroke-width="0.8"/>
<line x1="125.5" y1="472.24" x2="129.9" y2="472.24" stroke="#555" stroke-width="0.8"/>
<line x1="125.5" y1="456.55499999999995" x2="125.5" y2="472.24" stroke="#555" stroke-width="0.8"/>
<line x1="117.9" y1="464.3975" x2="125.5" y2="464.3975" stroke="#555" stroke-width="0.8"/>
<line x1="117.9" y1="482.7" x2="129.9" y2="482.7" stroke="#555" stroke-width="0.8"/>
<line x1="117.9" y1="464.3975" x2="117.9" y2="482.7" stroke="#555" stroke-width="0.8"/>
<line x1="128.6" y1="493.15" x2="129.9" y2="493.15" stroke="#555" stroke-width="0.8"/>
<line x1="128.6" y1="503.61" x2="129.9" y2="503.61" stroke="#555" stroke-width="0.8"/>
<line x1="128.6" y1="493.15" x2="128.6" y2="503.61" stroke="#555" stroke-width="0.8"/>
<line x1="127.5" y1="498.38" x2="128.6" y2="498.38" stroke="#555" stroke-width="0.8"/>
<line x1="127.5" y1="514.07" x2="129.9" y2="514.07" stroke="#555" stroke-width="0.8"/>
<line x1="127.5" y1="498.38" x2="127.5" y2="514.07" stroke="#555" stroke-width="0.8"/>
<line x1="129.3" y1="524.52" x2="129.9" y2="524.52" stroke="#555" stroke-width="0.8"/>
<line x1="129.3" y1="534.98" x2="129.9" y2="534.98" stroke="#555" stroke-width="0.8"/>
<line x1="129.3" y1="524.52" x2="129.3" y2="534.98" stroke="#555" stroke-width="0.8"/>
<line x1="128.9" y1="545.43" x2="129.9" y2="545.43" stroke="#555" stroke-width="0.8"/>
<line x1="128.9" y1="555.89" x2="129.9" y2="555.89" stroke="#555" stroke-width="0.8"/>
<line x1="128.9" y1="545.43" x2="128.9" y2="555.89" stroke="#555" stroke-width="0.8"/>
<line x1="128.0" y1="550.66" x2="128.9" y2="550.66" stroke="#555" stroke-width="0.8"/>
<line x1="128.0" y1="566.35" x2="129.9" y2="566.35" stroke="#555" stroke-width="0.8"/>
<line x1="128.0" y1="550.66" x2="128.0" y2="566.35" stroke="#555" stroke-width="0.8"/>
<line x1="126.5" y1="529.75" x2="129.3" y2="529.75" stroke="#555" stroke-width="0.8"/>
<line x1="126.5" y1="558.505" x2="128.0" y2="558.505" stroke="#555" stroke-width="0.8"/>
<line x1="126.5" y1="529.75" x2="126.5" y2="558.505" stroke="#555" stroke-width="0.8"/>
<line x1="109.3" y1="506.225" x2="127.5" y2="506.225" stroke="#555" stroke-width="0.8"/>
<line x1="109.3" y1="544.1275" x2="126.5" y2="544.1275" stroke="#555" stroke-width="0.8"/>
<line x1="109.3" y1="506.225" x2="109.3" y2="544.1275" stroke="#555" stroke-width="0.8"/>
<line x1="53.2" y1="473.54875" x2="117.9" y2="473.54875" stroke="#555" stroke-width="0.8"/>
<line x1="53.2" y1="525.17625" x2="109.3" y2="525.17625" stroke="#555" stroke-width="0.8"/>
<line x1="53.2" y1="473.54875" x2="53.2" y2="525.17625" stroke="#555" stroke-width="0.8"/>
<line x1="128.8" y1="597.72" x2="129.9" y2="597.72" stroke="#555" stroke-width="0.8"/>
<line x1="128.8" y1="608.17" x2="129.9" y2="608.17" stroke="#555" stroke-width="0.8"/>
<line x1="128.8" y1="597.72" x2="128.8" y2="608.17" stroke="#555" stroke-width="0.8"/>
<line x1="128.0" y1="587.26" x2="129.9" y2="587.26" stroke="#555" stroke-width="0.8"/>
<line x1="128.0" y1="602.9449999999999" x2="128.8" y2="602.9449999999999" stroke="#555" stroke-width="0.8"/>
<line x1="128.0" y1="587.26" x2="128.0" y2="602.9449999999999" stroke="#555" stroke-width="0.8"/>
<line x1="123.0" y1="576.8" x2="129.9" y2="576.8" stroke="#555" stroke-width="0.8"/>
<line x1="123.0" y1="595.1025" x2="128.0" y2="595.1025" stroke="#555" stroke-width="0.8"/>
<line x1="123.0" y1="576.8" x2="123.0" y2="595.1025" stroke="#555" stroke-width="0.8"/>
<line x1="7.4" y1="499.36249999999995" x2="53.2" y2="499.36249999999995" stroke="#555" stroke-width="0.8"/>
<line x1="7.4" y1="585.95125" x2="123.0" y2="585.95125" stroke="#555" stroke-width="0.8"/>
<line x1="7.4" y1="499.36249999999995" x2="7.4" y2="585.95125" stroke="#555" stroke-width="0.8"/>
<line x1="154.5" y1="445.3" x2="645.8" y2="445.3" stroke="#555" stroke-width="0.9"/>
<line x1="326.4" y1="428.5" x2="552.3" y2="428.5" stroke="#5A5A5A" stroke-width="0.8"/>
<line x1="326.4" y1="428.5" x2="326.4" y2="437.3" stroke="#5A5A5A" stroke-width="0.8"/>
<line x1="552.3" y1="428.5" x2="552.3" y2="443.6" stroke="#5A5A5A" stroke-width="0.8"/>
<line x1="232.5" y1="437.3" x2="420.5" y2="437.3" stroke="#5A5A5A" stroke-width="0.8"/>
<line x1="232.5" y1="437.3" x2="232.5" y2="440.2" stroke="#5A5A5A" stroke-width="0.8"/>
<line x1="420.5" y1="437.3" x2="420.5" y2="442.6" stroke="#5A5A5A" stroke-width="0.8"/>
<line x1="185.1" y1="440.2" x2="279" y2="440.2" stroke="#5A5A5A" stroke-width="0.8"/>
<line x1="185.1" y1="440.2" x2="185.1" y2="445.3" stroke="#5A5A5A" stroke-width="0.8"/>
<line x1="279" y1="440.2" x2="279" y2="443" stroke="#5A5A5A" stroke-width="0.8"/>
<line x1="252.5" y1="443" x2="300" y2="443" stroke="#5A5A5A" stroke-width="0.8"/>
<line x1="252.5" y1="443" x2="252.5" y2="445.3" stroke="#5A5A5A" stroke-width="0.8"/>
<line x1="300" y1="443" x2="300" y2="445.3" stroke="#5A5A5A" stroke-width="0.8"/>
<line x1="380" y1="442.6" x2="460.7" y2="442.6" stroke="#5A5A5A" stroke-width="0.8"/>
<line x1="380" y1="442.6" x2="380" y2="444.4" stroke="#5A5A5A" stroke-width="0.8"/>
<line x1="460.7" y1="442.6" x2="460.7" y2="445.3" stroke="#5A5A5A" stroke-width="0.8"/>
<line x1="526" y1="443.6" x2="579.8" y2="443.6" stroke="#5A5A5A" stroke-width="0.8"/>
<line x1="526" y1="443.6" x2="526" y2="445.3" stroke="#5A5A5A" stroke-width="0.8"/>
<line x1="579.8" y1="443.6" x2="579.8" y2="444.5" stroke="#5A5A5A" stroke-width="0.8"/>
<line x1="292.8" y1="444.5" x2="305" y2="444.5" stroke="#5A5A5A" stroke-width="0.7"/>
<line x1="360" y1="444.5" x2="375" y2="444.5" stroke="#5A5A5A" stroke-width="0.7"/>
<line x1="372" y1="444.4" x2="388" y2="444.4" stroke="#5A5A5A" stroke-width="0.7"/>
<line x1="512" y1="444.4" x2="540" y2="444.4" stroke="#5A5A5A" stroke-width="0.7"/>
<line x1="570" y1="444.5" x2="601.6" y2="444.5" stroke="#5A5A5A" stroke-width="0.7"/>
<line x1="160" y1="444.6" x2="178" y2="444.6" stroke="#5A5A5A" stroke-width="0.7"/>
<line x1="200" y1="444.6" x2="225" y2="444.6" stroke="#5A5A5A" stroke-width="0.7"/>
<line x1="470" y1="444.6" x2="500" y2="444.6" stroke="#5A5A5A" stroke-width="0.7"/>
<line x1="610" y1="444.6" x2="640" y2="444.6" stroke="#5A5A5A" stroke-width="0.7"/>
<rect x="436.4" y="446.0" width="71.0" height="42.30000000000001" fill="none" stroke="#23894F" stroke-width="1.4" stroke-dasharray="5.2,4.1"/>
<rect x="507.4" y="446.0" width="138.30000000000007" height="42.30000000000001" fill="none" stroke="#2F6E3C" stroke-width="1.4" stroke-dasharray="5.2,4.1"/>
<rect x="507.6" y="488.4" width="138.10000000000002" height="82.60000000000002" fill="none" stroke="#6A3DB0" stroke-width="1.4" stroke-dasharray="5.2,4.1"/>
<rect x="153.8" y="571.1" width="178.59999999999997" height="42.5" fill="none" stroke="#3D72B8" stroke-width="1.4" stroke-dasharray="5.2,4.1"/>
<rect x="332.4" y="571.0" width="40.200000000000045" height="42.799999999999955" fill="none" stroke="#2AA8E0" stroke-width="1.4" stroke-dasharray="5.2,4.1"/>
</svg>
</body></html>
